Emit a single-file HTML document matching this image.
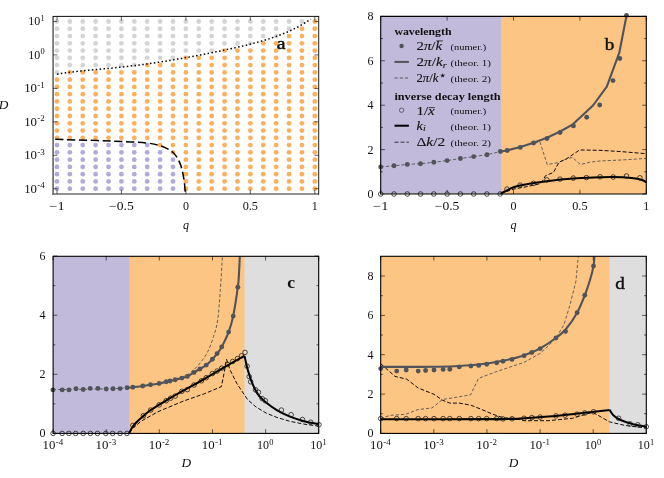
<!DOCTYPE html>
<html><head><meta charset="utf-8"><title>figure</title>
<style>html,body{margin:0;padding:0;background:#fff}svg{display:block;will-change:transform}</style>
</head><body>
<svg width="664" height="478" viewBox="0 0 664 478" font-family="'Liberation Serif', serif" fill="#111">
<rect width="664" height="478" fill="#fff"/>
<circle cx="56.95" cy="21.50" r="2.4" fill="#d4d4d4"/>
<circle cx="56.95" cy="28.77" r="2.4" fill="#d4d4d4"/>
<circle cx="56.95" cy="36.04" r="2.4" fill="#d4d4d4"/>
<circle cx="56.95" cy="43.31" r="2.4" fill="#d4d4d4"/>
<circle cx="56.95" cy="50.58" r="2.4" fill="#d4d4d4"/>
<circle cx="56.95" cy="57.85" r="2.4" fill="#d4d4d4"/>
<circle cx="56.95" cy="65.12" r="2.4" fill="#d4d4d4"/>
<circle cx="56.95" cy="72.39" r="2.4" fill="#d4d4d4"/>
<circle cx="56.95" cy="79.66" r="2.4" fill="#fdb05c"/>
<circle cx="56.95" cy="86.93" r="2.4" fill="#fdb05c"/>
<circle cx="56.95" cy="94.20" r="2.4" fill="#fdb05c"/>
<circle cx="56.95" cy="101.47" r="2.4" fill="#fdb05c"/>
<circle cx="56.95" cy="108.74" r="2.4" fill="#fdb05c"/>
<circle cx="56.95" cy="116.01" r="2.4" fill="#fdb05c"/>
<circle cx="56.95" cy="123.28" r="2.4" fill="#fdb05c"/>
<circle cx="56.95" cy="130.55" r="2.4" fill="#fdb05c"/>
<circle cx="56.95" cy="137.82" r="2.4" fill="#fdb05c"/>
<circle cx="56.95" cy="145.09" r="2.4" fill="#b2aad8"/>
<circle cx="56.95" cy="152.36" r="2.4" fill="#b2aad8"/>
<circle cx="56.95" cy="159.63" r="2.4" fill="#b2aad8"/>
<circle cx="56.95" cy="166.90" r="2.4" fill="#b2aad8"/>
<circle cx="56.95" cy="174.17" r="2.4" fill="#b2aad8"/>
<circle cx="56.95" cy="181.44" r="2.4" fill="#b2aad8"/>
<circle cx="56.95" cy="188.71" r="2.4" fill="#b2aad8"/>
<circle cx="69.84" cy="21.50" r="2.4" fill="#d4d4d4"/>
<circle cx="69.84" cy="28.77" r="2.4" fill="#d4d4d4"/>
<circle cx="69.84" cy="36.04" r="2.4" fill="#d4d4d4"/>
<circle cx="69.84" cy="43.31" r="2.4" fill="#d4d4d4"/>
<circle cx="69.84" cy="50.58" r="2.4" fill="#d4d4d4"/>
<circle cx="69.84" cy="57.85" r="2.4" fill="#d4d4d4"/>
<circle cx="69.84" cy="65.12" r="2.4" fill="#d4d4d4"/>
<circle cx="69.84" cy="72.39" r="2.4" fill="#fdb05c"/>
<circle cx="69.84" cy="79.66" r="2.4" fill="#fdb05c"/>
<circle cx="69.84" cy="86.93" r="2.4" fill="#fdb05c"/>
<circle cx="69.84" cy="94.20" r="2.4" fill="#fdb05c"/>
<circle cx="69.84" cy="101.47" r="2.4" fill="#fdb05c"/>
<circle cx="69.84" cy="108.74" r="2.4" fill="#fdb05c"/>
<circle cx="69.84" cy="116.01" r="2.4" fill="#fdb05c"/>
<circle cx="69.84" cy="123.28" r="2.4" fill="#fdb05c"/>
<circle cx="69.84" cy="130.55" r="2.4" fill="#fdb05c"/>
<circle cx="69.84" cy="137.82" r="2.4" fill="#fdb05c"/>
<circle cx="69.84" cy="145.09" r="2.4" fill="#b2aad8"/>
<circle cx="69.84" cy="152.36" r="2.4" fill="#b2aad8"/>
<circle cx="69.84" cy="159.63" r="2.4" fill="#b2aad8"/>
<circle cx="69.84" cy="166.90" r="2.4" fill="#b2aad8"/>
<circle cx="69.84" cy="174.17" r="2.4" fill="#b2aad8"/>
<circle cx="69.84" cy="181.44" r="2.4" fill="#b2aad8"/>
<circle cx="69.84" cy="188.71" r="2.4" fill="#b2aad8"/>
<circle cx="82.74" cy="21.50" r="2.4" fill="#d4d4d4"/>
<circle cx="82.74" cy="28.77" r="2.4" fill="#d4d4d4"/>
<circle cx="82.74" cy="36.04" r="2.4" fill="#d4d4d4"/>
<circle cx="82.74" cy="43.31" r="2.4" fill="#d4d4d4"/>
<circle cx="82.74" cy="50.58" r="2.4" fill="#d4d4d4"/>
<circle cx="82.74" cy="57.85" r="2.4" fill="#d4d4d4"/>
<circle cx="82.74" cy="65.12" r="2.4" fill="#d4d4d4"/>
<circle cx="82.74" cy="72.39" r="2.4" fill="#fdb05c"/>
<circle cx="82.74" cy="79.66" r="2.4" fill="#fdb05c"/>
<circle cx="82.74" cy="86.93" r="2.4" fill="#fdb05c"/>
<circle cx="82.74" cy="94.20" r="2.4" fill="#fdb05c"/>
<circle cx="82.74" cy="101.47" r="2.4" fill="#fdb05c"/>
<circle cx="82.74" cy="108.74" r="2.4" fill="#fdb05c"/>
<circle cx="82.74" cy="116.01" r="2.4" fill="#fdb05c"/>
<circle cx="82.74" cy="123.28" r="2.4" fill="#fdb05c"/>
<circle cx="82.74" cy="130.55" r="2.4" fill="#fdb05c"/>
<circle cx="82.74" cy="137.82" r="2.4" fill="#fdb05c"/>
<circle cx="82.74" cy="145.09" r="2.4" fill="#b2aad8"/>
<circle cx="82.74" cy="152.36" r="2.4" fill="#b2aad8"/>
<circle cx="82.74" cy="159.63" r="2.4" fill="#b2aad8"/>
<circle cx="82.74" cy="166.90" r="2.4" fill="#b2aad8"/>
<circle cx="82.74" cy="174.17" r="2.4" fill="#b2aad8"/>
<circle cx="82.74" cy="181.44" r="2.4" fill="#b2aad8"/>
<circle cx="82.74" cy="188.71" r="2.4" fill="#b2aad8"/>
<circle cx="95.63" cy="21.50" r="2.4" fill="#d4d4d4"/>
<circle cx="95.63" cy="28.77" r="2.4" fill="#d4d4d4"/>
<circle cx="95.63" cy="36.04" r="2.4" fill="#d4d4d4"/>
<circle cx="95.63" cy="43.31" r="2.4" fill="#d4d4d4"/>
<circle cx="95.63" cy="50.58" r="2.4" fill="#d4d4d4"/>
<circle cx="95.63" cy="57.85" r="2.4" fill="#d4d4d4"/>
<circle cx="95.63" cy="65.12" r="2.4" fill="#d4d4d4"/>
<circle cx="95.63" cy="72.39" r="2.4" fill="#fdb05c"/>
<circle cx="95.63" cy="79.66" r="2.4" fill="#fdb05c"/>
<circle cx="95.63" cy="86.93" r="2.4" fill="#fdb05c"/>
<circle cx="95.63" cy="94.20" r="2.4" fill="#fdb05c"/>
<circle cx="95.63" cy="101.47" r="2.4" fill="#fdb05c"/>
<circle cx="95.63" cy="108.74" r="2.4" fill="#fdb05c"/>
<circle cx="95.63" cy="116.01" r="2.4" fill="#fdb05c"/>
<circle cx="95.63" cy="123.28" r="2.4" fill="#fdb05c"/>
<circle cx="95.63" cy="130.55" r="2.4" fill="#fdb05c"/>
<circle cx="95.63" cy="137.82" r="2.4" fill="#fdb05c"/>
<circle cx="95.63" cy="145.09" r="2.4" fill="#b2aad8"/>
<circle cx="95.63" cy="152.36" r="2.4" fill="#b2aad8"/>
<circle cx="95.63" cy="159.63" r="2.4" fill="#b2aad8"/>
<circle cx="95.63" cy="166.90" r="2.4" fill="#b2aad8"/>
<circle cx="95.63" cy="174.17" r="2.4" fill="#b2aad8"/>
<circle cx="95.63" cy="181.44" r="2.4" fill="#b2aad8"/>
<circle cx="95.63" cy="188.71" r="2.4" fill="#b2aad8"/>
<circle cx="108.52" cy="21.50" r="2.4" fill="#d4d4d4"/>
<circle cx="108.52" cy="28.77" r="2.4" fill="#d4d4d4"/>
<circle cx="108.52" cy="36.04" r="2.4" fill="#d4d4d4"/>
<circle cx="108.52" cy="43.31" r="2.4" fill="#d4d4d4"/>
<circle cx="108.52" cy="50.58" r="2.4" fill="#d4d4d4"/>
<circle cx="108.52" cy="57.85" r="2.4" fill="#d4d4d4"/>
<circle cx="108.52" cy="65.12" r="2.4" fill="#d4d4d4"/>
<circle cx="108.52" cy="72.39" r="2.4" fill="#fdb05c"/>
<circle cx="108.52" cy="79.66" r="2.4" fill="#fdb05c"/>
<circle cx="108.52" cy="86.93" r="2.4" fill="#fdb05c"/>
<circle cx="108.52" cy="94.20" r="2.4" fill="#fdb05c"/>
<circle cx="108.52" cy="101.47" r="2.4" fill="#fdb05c"/>
<circle cx="108.52" cy="108.74" r="2.4" fill="#fdb05c"/>
<circle cx="108.52" cy="116.01" r="2.4" fill="#fdb05c"/>
<circle cx="108.52" cy="123.28" r="2.4" fill="#fdb05c"/>
<circle cx="108.52" cy="130.55" r="2.4" fill="#fdb05c"/>
<circle cx="108.52" cy="137.82" r="2.4" fill="#fdb05c"/>
<circle cx="108.52" cy="145.09" r="2.4" fill="#b2aad8"/>
<circle cx="108.52" cy="152.36" r="2.4" fill="#b2aad8"/>
<circle cx="108.52" cy="159.63" r="2.4" fill="#b2aad8"/>
<circle cx="108.52" cy="166.90" r="2.4" fill="#b2aad8"/>
<circle cx="108.52" cy="174.17" r="2.4" fill="#b2aad8"/>
<circle cx="108.52" cy="181.44" r="2.4" fill="#b2aad8"/>
<circle cx="108.52" cy="188.71" r="2.4" fill="#b2aad8"/>
<circle cx="121.42" cy="21.50" r="2.4" fill="#d4d4d4"/>
<circle cx="121.42" cy="28.77" r="2.4" fill="#d4d4d4"/>
<circle cx="121.42" cy="36.04" r="2.4" fill="#d4d4d4"/>
<circle cx="121.42" cy="43.31" r="2.4" fill="#d4d4d4"/>
<circle cx="121.42" cy="50.58" r="2.4" fill="#d4d4d4"/>
<circle cx="121.42" cy="57.85" r="2.4" fill="#d4d4d4"/>
<circle cx="121.42" cy="65.12" r="2.4" fill="#d4d4d4"/>
<circle cx="121.42" cy="72.39" r="2.4" fill="#fdb05c"/>
<circle cx="121.42" cy="79.66" r="2.4" fill="#fdb05c"/>
<circle cx="121.42" cy="86.93" r="2.4" fill="#fdb05c"/>
<circle cx="121.42" cy="94.20" r="2.4" fill="#fdb05c"/>
<circle cx="121.42" cy="101.47" r="2.4" fill="#fdb05c"/>
<circle cx="121.42" cy="108.74" r="2.4" fill="#fdb05c"/>
<circle cx="121.42" cy="116.01" r="2.4" fill="#fdb05c"/>
<circle cx="121.42" cy="123.28" r="2.4" fill="#fdb05c"/>
<circle cx="121.42" cy="130.55" r="2.4" fill="#fdb05c"/>
<circle cx="121.42" cy="137.82" r="2.4" fill="#fdb05c"/>
<circle cx="121.42" cy="145.09" r="2.4" fill="#b2aad8"/>
<circle cx="121.42" cy="152.36" r="2.4" fill="#b2aad8"/>
<circle cx="121.42" cy="159.63" r="2.4" fill="#b2aad8"/>
<circle cx="121.42" cy="166.90" r="2.4" fill="#b2aad8"/>
<circle cx="121.42" cy="174.17" r="2.4" fill="#b2aad8"/>
<circle cx="121.42" cy="181.44" r="2.4" fill="#b2aad8"/>
<circle cx="121.42" cy="188.71" r="2.4" fill="#b2aad8"/>
<circle cx="134.31" cy="21.50" r="2.4" fill="#d4d4d4"/>
<circle cx="134.31" cy="28.77" r="2.4" fill="#d4d4d4"/>
<circle cx="134.31" cy="36.04" r="2.4" fill="#d4d4d4"/>
<circle cx="134.31" cy="43.31" r="2.4" fill="#d4d4d4"/>
<circle cx="134.31" cy="50.58" r="2.4" fill="#d4d4d4"/>
<circle cx="134.31" cy="57.85" r="2.4" fill="#d4d4d4"/>
<circle cx="134.31" cy="65.12" r="2.4" fill="#d4d4d4"/>
<circle cx="134.31" cy="72.39" r="2.4" fill="#fdb05c"/>
<circle cx="134.31" cy="79.66" r="2.4" fill="#fdb05c"/>
<circle cx="134.31" cy="86.93" r="2.4" fill="#fdb05c"/>
<circle cx="134.31" cy="94.20" r="2.4" fill="#fdb05c"/>
<circle cx="134.31" cy="101.47" r="2.4" fill="#fdb05c"/>
<circle cx="134.31" cy="108.74" r="2.4" fill="#fdb05c"/>
<circle cx="134.31" cy="116.01" r="2.4" fill="#fdb05c"/>
<circle cx="134.31" cy="123.28" r="2.4" fill="#fdb05c"/>
<circle cx="134.31" cy="130.55" r="2.4" fill="#fdb05c"/>
<circle cx="134.31" cy="137.82" r="2.4" fill="#fdb05c"/>
<circle cx="134.31" cy="145.09" r="2.4" fill="#b2aad8"/>
<circle cx="134.31" cy="152.36" r="2.4" fill="#b2aad8"/>
<circle cx="134.31" cy="159.63" r="2.4" fill="#b2aad8"/>
<circle cx="134.31" cy="166.90" r="2.4" fill="#b2aad8"/>
<circle cx="134.31" cy="174.17" r="2.4" fill="#b2aad8"/>
<circle cx="134.31" cy="181.44" r="2.4" fill="#b2aad8"/>
<circle cx="134.31" cy="188.71" r="2.4" fill="#b2aad8"/>
<circle cx="147.20" cy="21.50" r="2.4" fill="#d4d4d4"/>
<circle cx="147.20" cy="28.77" r="2.4" fill="#d4d4d4"/>
<circle cx="147.20" cy="36.04" r="2.4" fill="#d4d4d4"/>
<circle cx="147.20" cy="43.31" r="2.4" fill="#d4d4d4"/>
<circle cx="147.20" cy="50.58" r="2.4" fill="#d4d4d4"/>
<circle cx="147.20" cy="57.85" r="2.4" fill="#d4d4d4"/>
<circle cx="147.20" cy="65.12" r="2.4" fill="#fdb05c"/>
<circle cx="147.20" cy="72.39" r="2.4" fill="#fdb05c"/>
<circle cx="147.20" cy="79.66" r="2.4" fill="#fdb05c"/>
<circle cx="147.20" cy="86.93" r="2.4" fill="#fdb05c"/>
<circle cx="147.20" cy="94.20" r="2.4" fill="#fdb05c"/>
<circle cx="147.20" cy="101.47" r="2.4" fill="#fdb05c"/>
<circle cx="147.20" cy="108.74" r="2.4" fill="#fdb05c"/>
<circle cx="147.20" cy="116.01" r="2.4" fill="#fdb05c"/>
<circle cx="147.20" cy="123.28" r="2.4" fill="#fdb05c"/>
<circle cx="147.20" cy="130.55" r="2.4" fill="#fdb05c"/>
<circle cx="147.20" cy="137.82" r="2.4" fill="#fdb05c"/>
<circle cx="147.20" cy="145.09" r="2.4" fill="#b2aad8"/>
<circle cx="147.20" cy="152.36" r="2.4" fill="#b2aad8"/>
<circle cx="147.20" cy="159.63" r="2.4" fill="#b2aad8"/>
<circle cx="147.20" cy="166.90" r="2.4" fill="#b2aad8"/>
<circle cx="147.20" cy="174.17" r="2.4" fill="#b2aad8"/>
<circle cx="147.20" cy="181.44" r="2.4" fill="#b2aad8"/>
<circle cx="147.20" cy="188.71" r="2.4" fill="#b2aad8"/>
<circle cx="160.09" cy="21.50" r="2.4" fill="#d4d4d4"/>
<circle cx="160.09" cy="28.77" r="2.4" fill="#d4d4d4"/>
<circle cx="160.09" cy="36.04" r="2.4" fill="#d4d4d4"/>
<circle cx="160.09" cy="43.31" r="2.4" fill="#d4d4d4"/>
<circle cx="160.09" cy="50.58" r="2.4" fill="#d4d4d4"/>
<circle cx="160.09" cy="57.85" r="2.4" fill="#d4d4d4"/>
<circle cx="160.09" cy="65.12" r="2.4" fill="#fdb05c"/>
<circle cx="160.09" cy="72.39" r="2.4" fill="#fdb05c"/>
<circle cx="160.09" cy="79.66" r="2.4" fill="#fdb05c"/>
<circle cx="160.09" cy="86.93" r="2.4" fill="#fdb05c"/>
<circle cx="160.09" cy="94.20" r="2.4" fill="#fdb05c"/>
<circle cx="160.09" cy="101.47" r="2.4" fill="#fdb05c"/>
<circle cx="160.09" cy="108.74" r="2.4" fill="#fdb05c"/>
<circle cx="160.09" cy="116.01" r="2.4" fill="#fdb05c"/>
<circle cx="160.09" cy="123.28" r="2.4" fill="#fdb05c"/>
<circle cx="160.09" cy="130.55" r="2.4" fill="#fdb05c"/>
<circle cx="160.09" cy="137.82" r="2.4" fill="#fdb05c"/>
<circle cx="160.09" cy="145.09" r="2.4" fill="#fdb05c"/>
<circle cx="160.09" cy="152.36" r="2.4" fill="#b2aad8"/>
<circle cx="160.09" cy="159.63" r="2.4" fill="#b2aad8"/>
<circle cx="160.09" cy="166.90" r="2.4" fill="#b2aad8"/>
<circle cx="160.09" cy="174.17" r="2.4" fill="#b2aad8"/>
<circle cx="160.09" cy="181.44" r="2.4" fill="#b2aad8"/>
<circle cx="160.09" cy="188.71" r="2.4" fill="#b2aad8"/>
<circle cx="172.99" cy="21.50" r="2.4" fill="#d4d4d4"/>
<circle cx="172.99" cy="28.77" r="2.4" fill="#d4d4d4"/>
<circle cx="172.99" cy="36.04" r="2.4" fill="#d4d4d4"/>
<circle cx="172.99" cy="43.31" r="2.4" fill="#d4d4d4"/>
<circle cx="172.99" cy="50.58" r="2.4" fill="#d4d4d4"/>
<circle cx="172.99" cy="57.85" r="2.4" fill="#d4d4d4"/>
<circle cx="172.99" cy="65.12" r="2.4" fill="#fdb05c"/>
<circle cx="172.99" cy="72.39" r="2.4" fill="#fdb05c"/>
<circle cx="172.99" cy="79.66" r="2.4" fill="#fdb05c"/>
<circle cx="172.99" cy="86.93" r="2.4" fill="#fdb05c"/>
<circle cx="172.99" cy="94.20" r="2.4" fill="#fdb05c"/>
<circle cx="172.99" cy="101.47" r="2.4" fill="#fdb05c"/>
<circle cx="172.99" cy="108.74" r="2.4" fill="#fdb05c"/>
<circle cx="172.99" cy="116.01" r="2.4" fill="#fdb05c"/>
<circle cx="172.99" cy="123.28" r="2.4" fill="#fdb05c"/>
<circle cx="172.99" cy="130.55" r="2.4" fill="#fdb05c"/>
<circle cx="172.99" cy="137.82" r="2.4" fill="#fdb05c"/>
<circle cx="172.99" cy="145.09" r="2.4" fill="#fdb05c"/>
<circle cx="172.99" cy="152.36" r="2.4" fill="#fdb05c"/>
<circle cx="172.99" cy="159.63" r="2.4" fill="#b2aad8"/>
<circle cx="172.99" cy="166.90" r="2.4" fill="#b2aad8"/>
<circle cx="172.99" cy="174.17" r="2.4" fill="#b2aad8"/>
<circle cx="172.99" cy="181.44" r="2.4" fill="#b2aad8"/>
<circle cx="172.99" cy="188.71" r="2.4" fill="#b2aad8"/>
<circle cx="185.88" cy="21.50" r="2.4" fill="#d4d4d4"/>
<circle cx="185.88" cy="28.77" r="2.4" fill="#d4d4d4"/>
<circle cx="185.88" cy="36.04" r="2.4" fill="#d4d4d4"/>
<circle cx="185.88" cy="43.31" r="2.4" fill="#d4d4d4"/>
<circle cx="185.88" cy="50.58" r="2.4" fill="#d4d4d4"/>
<circle cx="185.88" cy="57.85" r="2.4" fill="#fdb05c"/>
<circle cx="185.88" cy="65.12" r="2.4" fill="#fdb05c"/>
<circle cx="185.88" cy="72.39" r="2.4" fill="#fdb05c"/>
<circle cx="185.88" cy="79.66" r="2.4" fill="#fdb05c"/>
<circle cx="185.88" cy="86.93" r="2.4" fill="#fdb05c"/>
<circle cx="185.88" cy="94.20" r="2.4" fill="#fdb05c"/>
<circle cx="185.88" cy="101.47" r="2.4" fill="#fdb05c"/>
<circle cx="185.88" cy="108.74" r="2.4" fill="#fdb05c"/>
<circle cx="185.88" cy="116.01" r="2.4" fill="#fdb05c"/>
<circle cx="185.88" cy="123.28" r="2.4" fill="#fdb05c"/>
<circle cx="185.88" cy="130.55" r="2.4" fill="#fdb05c"/>
<circle cx="185.88" cy="137.82" r="2.4" fill="#fdb05c"/>
<circle cx="185.88" cy="145.09" r="2.4" fill="#fdb05c"/>
<circle cx="185.88" cy="152.36" r="2.4" fill="#fdb05c"/>
<circle cx="185.88" cy="159.63" r="2.4" fill="#fdb05c"/>
<circle cx="185.88" cy="166.90" r="2.4" fill="#fdb05c"/>
<circle cx="185.88" cy="174.17" r="2.4" fill="#fdb05c"/>
<circle cx="185.88" cy="181.44" r="2.4" fill="#fdb05c"/>
<circle cx="185.88" cy="188.71" r="2.4" fill="#fdb05c"/>
<circle cx="198.77" cy="21.50" r="2.4" fill="#d4d4d4"/>
<circle cx="198.77" cy="28.77" r="2.4" fill="#d4d4d4"/>
<circle cx="198.77" cy="36.04" r="2.4" fill="#d4d4d4"/>
<circle cx="198.77" cy="43.31" r="2.4" fill="#d4d4d4"/>
<circle cx="198.77" cy="50.58" r="2.4" fill="#d4d4d4"/>
<circle cx="198.77" cy="57.85" r="2.4" fill="#fdb05c"/>
<circle cx="198.77" cy="65.12" r="2.4" fill="#fdb05c"/>
<circle cx="198.77" cy="72.39" r="2.4" fill="#fdb05c"/>
<circle cx="198.77" cy="79.66" r="2.4" fill="#fdb05c"/>
<circle cx="198.77" cy="86.93" r="2.4" fill="#fdb05c"/>
<circle cx="198.77" cy="94.20" r="2.4" fill="#fdb05c"/>
<circle cx="198.77" cy="101.47" r="2.4" fill="#fdb05c"/>
<circle cx="198.77" cy="108.74" r="2.4" fill="#fdb05c"/>
<circle cx="198.77" cy="116.01" r="2.4" fill="#fdb05c"/>
<circle cx="198.77" cy="123.28" r="2.4" fill="#fdb05c"/>
<circle cx="198.77" cy="130.55" r="2.4" fill="#fdb05c"/>
<circle cx="198.77" cy="137.82" r="2.4" fill="#fdb05c"/>
<circle cx="198.77" cy="145.09" r="2.4" fill="#fdb05c"/>
<circle cx="198.77" cy="152.36" r="2.4" fill="#fdb05c"/>
<circle cx="198.77" cy="159.63" r="2.4" fill="#fdb05c"/>
<circle cx="198.77" cy="166.90" r="2.4" fill="#fdb05c"/>
<circle cx="198.77" cy="174.17" r="2.4" fill="#fdb05c"/>
<circle cx="198.77" cy="181.44" r="2.4" fill="#fdb05c"/>
<circle cx="198.77" cy="188.71" r="2.4" fill="#fdb05c"/>
<circle cx="211.67" cy="21.50" r="2.4" fill="#d4d4d4"/>
<circle cx="211.67" cy="28.77" r="2.4" fill="#d4d4d4"/>
<circle cx="211.67" cy="36.04" r="2.4" fill="#d4d4d4"/>
<circle cx="211.67" cy="43.31" r="2.4" fill="#d4d4d4"/>
<circle cx="211.67" cy="50.58" r="2.4" fill="#d4d4d4"/>
<circle cx="211.67" cy="57.85" r="2.4" fill="#fdb05c"/>
<circle cx="211.67" cy="65.12" r="2.4" fill="#fdb05c"/>
<circle cx="211.67" cy="72.39" r="2.4" fill="#fdb05c"/>
<circle cx="211.67" cy="79.66" r="2.4" fill="#fdb05c"/>
<circle cx="211.67" cy="86.93" r="2.4" fill="#fdb05c"/>
<circle cx="211.67" cy="94.20" r="2.4" fill="#fdb05c"/>
<circle cx="211.67" cy="101.47" r="2.4" fill="#fdb05c"/>
<circle cx="211.67" cy="108.74" r="2.4" fill="#fdb05c"/>
<circle cx="211.67" cy="116.01" r="2.4" fill="#fdb05c"/>
<circle cx="211.67" cy="123.28" r="2.4" fill="#fdb05c"/>
<circle cx="211.67" cy="130.55" r="2.4" fill="#fdb05c"/>
<circle cx="211.67" cy="137.82" r="2.4" fill="#fdb05c"/>
<circle cx="211.67" cy="145.09" r="2.4" fill="#fdb05c"/>
<circle cx="211.67" cy="152.36" r="2.4" fill="#fdb05c"/>
<circle cx="211.67" cy="159.63" r="2.4" fill="#fdb05c"/>
<circle cx="211.67" cy="166.90" r="2.4" fill="#fdb05c"/>
<circle cx="211.67" cy="174.17" r="2.4" fill="#fdb05c"/>
<circle cx="211.67" cy="181.44" r="2.4" fill="#fdb05c"/>
<circle cx="211.67" cy="188.71" r="2.4" fill="#fdb05c"/>
<circle cx="224.56" cy="21.50" r="2.4" fill="#d4d4d4"/>
<circle cx="224.56" cy="28.77" r="2.4" fill="#d4d4d4"/>
<circle cx="224.56" cy="36.04" r="2.4" fill="#d4d4d4"/>
<circle cx="224.56" cy="43.31" r="2.4" fill="#d4d4d4"/>
<circle cx="224.56" cy="50.58" r="2.4" fill="#fdb05c"/>
<circle cx="224.56" cy="57.85" r="2.4" fill="#fdb05c"/>
<circle cx="224.56" cy="65.12" r="2.4" fill="#fdb05c"/>
<circle cx="224.56" cy="72.39" r="2.4" fill="#fdb05c"/>
<circle cx="224.56" cy="79.66" r="2.4" fill="#fdb05c"/>
<circle cx="224.56" cy="86.93" r="2.4" fill="#fdb05c"/>
<circle cx="224.56" cy="94.20" r="2.4" fill="#fdb05c"/>
<circle cx="224.56" cy="101.47" r="2.4" fill="#fdb05c"/>
<circle cx="224.56" cy="108.74" r="2.4" fill="#fdb05c"/>
<circle cx="224.56" cy="116.01" r="2.4" fill="#fdb05c"/>
<circle cx="224.56" cy="123.28" r="2.4" fill="#fdb05c"/>
<circle cx="224.56" cy="130.55" r="2.4" fill="#fdb05c"/>
<circle cx="224.56" cy="137.82" r="2.4" fill="#fdb05c"/>
<circle cx="224.56" cy="145.09" r="2.4" fill="#fdb05c"/>
<circle cx="224.56" cy="152.36" r="2.4" fill="#fdb05c"/>
<circle cx="224.56" cy="159.63" r="2.4" fill="#fdb05c"/>
<circle cx="224.56" cy="166.90" r="2.4" fill="#fdb05c"/>
<circle cx="224.56" cy="174.17" r="2.4" fill="#fdb05c"/>
<circle cx="224.56" cy="181.44" r="2.4" fill="#fdb05c"/>
<circle cx="224.56" cy="188.71" r="2.4" fill="#fdb05c"/>
<circle cx="237.45" cy="21.50" r="2.4" fill="#d4d4d4"/>
<circle cx="237.45" cy="28.77" r="2.4" fill="#d4d4d4"/>
<circle cx="237.45" cy="36.04" r="2.4" fill="#d4d4d4"/>
<circle cx="237.45" cy="43.31" r="2.4" fill="#d4d4d4"/>
<circle cx="237.45" cy="50.58" r="2.4" fill="#fdb05c"/>
<circle cx="237.45" cy="57.85" r="2.4" fill="#fdb05c"/>
<circle cx="237.45" cy="65.12" r="2.4" fill="#fdb05c"/>
<circle cx="237.45" cy="72.39" r="2.4" fill="#fdb05c"/>
<circle cx="237.45" cy="79.66" r="2.4" fill="#fdb05c"/>
<circle cx="237.45" cy="86.93" r="2.4" fill="#fdb05c"/>
<circle cx="237.45" cy="94.20" r="2.4" fill="#fdb05c"/>
<circle cx="237.45" cy="101.47" r="2.4" fill="#fdb05c"/>
<circle cx="237.45" cy="108.74" r="2.4" fill="#fdb05c"/>
<circle cx="237.45" cy="116.01" r="2.4" fill="#fdb05c"/>
<circle cx="237.45" cy="123.28" r="2.4" fill="#fdb05c"/>
<circle cx="237.45" cy="130.55" r="2.4" fill="#fdb05c"/>
<circle cx="237.45" cy="137.82" r="2.4" fill="#fdb05c"/>
<circle cx="237.45" cy="145.09" r="2.4" fill="#fdb05c"/>
<circle cx="237.45" cy="152.36" r="2.4" fill="#fdb05c"/>
<circle cx="237.45" cy="159.63" r="2.4" fill="#fdb05c"/>
<circle cx="237.45" cy="166.90" r="2.4" fill="#fdb05c"/>
<circle cx="237.45" cy="174.17" r="2.4" fill="#fdb05c"/>
<circle cx="237.45" cy="181.44" r="2.4" fill="#fdb05c"/>
<circle cx="237.45" cy="188.71" r="2.4" fill="#fdb05c"/>
<circle cx="250.35" cy="21.50" r="2.4" fill="#d4d4d4"/>
<circle cx="250.35" cy="28.77" r="2.4" fill="#d4d4d4"/>
<circle cx="250.35" cy="36.04" r="2.4" fill="#d4d4d4"/>
<circle cx="250.35" cy="43.31" r="2.4" fill="#d4d4d4"/>
<circle cx="250.35" cy="50.58" r="2.4" fill="#fdb05c"/>
<circle cx="250.35" cy="57.85" r="2.4" fill="#fdb05c"/>
<circle cx="250.35" cy="65.12" r="2.4" fill="#fdb05c"/>
<circle cx="250.35" cy="72.39" r="2.4" fill="#fdb05c"/>
<circle cx="250.35" cy="79.66" r="2.4" fill="#fdb05c"/>
<circle cx="250.35" cy="86.93" r="2.4" fill="#fdb05c"/>
<circle cx="250.35" cy="94.20" r="2.4" fill="#fdb05c"/>
<circle cx="250.35" cy="101.47" r="2.4" fill="#fdb05c"/>
<circle cx="250.35" cy="108.74" r="2.4" fill="#fdb05c"/>
<circle cx="250.35" cy="116.01" r="2.4" fill="#fdb05c"/>
<circle cx="250.35" cy="123.28" r="2.4" fill="#fdb05c"/>
<circle cx="250.35" cy="130.55" r="2.4" fill="#fdb05c"/>
<circle cx="250.35" cy="137.82" r="2.4" fill="#fdb05c"/>
<circle cx="250.35" cy="145.09" r="2.4" fill="#fdb05c"/>
<circle cx="250.35" cy="152.36" r="2.4" fill="#fdb05c"/>
<circle cx="250.35" cy="159.63" r="2.4" fill="#fdb05c"/>
<circle cx="250.35" cy="166.90" r="2.4" fill="#fdb05c"/>
<circle cx="250.35" cy="174.17" r="2.4" fill="#fdb05c"/>
<circle cx="250.35" cy="181.44" r="2.4" fill="#fdb05c"/>
<circle cx="250.35" cy="188.71" r="2.4" fill="#fdb05c"/>
<circle cx="263.24" cy="21.50" r="2.4" fill="#d4d4d4"/>
<circle cx="263.24" cy="28.77" r="2.4" fill="#d4d4d4"/>
<circle cx="263.24" cy="36.04" r="2.4" fill="#d4d4d4"/>
<circle cx="263.24" cy="43.31" r="2.4" fill="#fdb05c"/>
<circle cx="263.24" cy="50.58" r="2.4" fill="#fdb05c"/>
<circle cx="263.24" cy="57.85" r="2.4" fill="#fdb05c"/>
<circle cx="263.24" cy="65.12" r="2.4" fill="#fdb05c"/>
<circle cx="263.24" cy="72.39" r="2.4" fill="#fdb05c"/>
<circle cx="263.24" cy="79.66" r="2.4" fill="#fdb05c"/>
<circle cx="263.24" cy="86.93" r="2.4" fill="#fdb05c"/>
<circle cx="263.24" cy="94.20" r="2.4" fill="#fdb05c"/>
<circle cx="263.24" cy="101.47" r="2.4" fill="#fdb05c"/>
<circle cx="263.24" cy="108.74" r="2.4" fill="#fdb05c"/>
<circle cx="263.24" cy="116.01" r="2.4" fill="#fdb05c"/>
<circle cx="263.24" cy="123.28" r="2.4" fill="#fdb05c"/>
<circle cx="263.24" cy="130.55" r="2.4" fill="#fdb05c"/>
<circle cx="263.24" cy="137.82" r="2.4" fill="#fdb05c"/>
<circle cx="263.24" cy="145.09" r="2.4" fill="#fdb05c"/>
<circle cx="263.24" cy="152.36" r="2.4" fill="#fdb05c"/>
<circle cx="263.24" cy="159.63" r="2.4" fill="#fdb05c"/>
<circle cx="263.24" cy="166.90" r="2.4" fill="#fdb05c"/>
<circle cx="263.24" cy="174.17" r="2.4" fill="#fdb05c"/>
<circle cx="263.24" cy="181.44" r="2.4" fill="#fdb05c"/>
<circle cx="263.24" cy="188.71" r="2.4" fill="#fdb05c"/>
<circle cx="276.13" cy="21.50" r="2.4" fill="#d4d4d4"/>
<circle cx="276.13" cy="28.77" r="2.4" fill="#d4d4d4"/>
<circle cx="276.13" cy="36.04" r="2.4" fill="#d4d4d4"/>
<circle cx="276.13" cy="43.31" r="2.4" fill="#fdb05c"/>
<circle cx="276.13" cy="50.58" r="2.4" fill="#fdb05c"/>
<circle cx="276.13" cy="57.85" r="2.4" fill="#fdb05c"/>
<circle cx="276.13" cy="65.12" r="2.4" fill="#fdb05c"/>
<circle cx="276.13" cy="72.39" r="2.4" fill="#fdb05c"/>
<circle cx="276.13" cy="79.66" r="2.4" fill="#fdb05c"/>
<circle cx="276.13" cy="86.93" r="2.4" fill="#fdb05c"/>
<circle cx="276.13" cy="94.20" r="2.4" fill="#fdb05c"/>
<circle cx="276.13" cy="101.47" r="2.4" fill="#fdb05c"/>
<circle cx="276.13" cy="108.74" r="2.4" fill="#fdb05c"/>
<circle cx="276.13" cy="116.01" r="2.4" fill="#fdb05c"/>
<circle cx="276.13" cy="123.28" r="2.4" fill="#fdb05c"/>
<circle cx="276.13" cy="130.55" r="2.4" fill="#fdb05c"/>
<circle cx="276.13" cy="137.82" r="2.4" fill="#fdb05c"/>
<circle cx="276.13" cy="145.09" r="2.4" fill="#fdb05c"/>
<circle cx="276.13" cy="152.36" r="2.4" fill="#fdb05c"/>
<circle cx="276.13" cy="159.63" r="2.4" fill="#fdb05c"/>
<circle cx="276.13" cy="166.90" r="2.4" fill="#fdb05c"/>
<circle cx="276.13" cy="174.17" r="2.4" fill="#fdb05c"/>
<circle cx="276.13" cy="181.44" r="2.4" fill="#fdb05c"/>
<circle cx="276.13" cy="188.71" r="2.4" fill="#fdb05c"/>
<circle cx="289.02" cy="21.50" r="2.4" fill="#d4d4d4"/>
<circle cx="289.02" cy="28.77" r="2.4" fill="#d4d4d4"/>
<circle cx="289.02" cy="36.04" r="2.4" fill="#fdb05c"/>
<circle cx="289.02" cy="43.31" r="2.4" fill="#fdb05c"/>
<circle cx="289.02" cy="50.58" r="2.4" fill="#fdb05c"/>
<circle cx="289.02" cy="57.85" r="2.4" fill="#fdb05c"/>
<circle cx="289.02" cy="65.12" r="2.4" fill="#fdb05c"/>
<circle cx="289.02" cy="72.39" r="2.4" fill="#fdb05c"/>
<circle cx="289.02" cy="79.66" r="2.4" fill="#fdb05c"/>
<circle cx="289.02" cy="86.93" r="2.4" fill="#fdb05c"/>
<circle cx="289.02" cy="94.20" r="2.4" fill="#fdb05c"/>
<circle cx="289.02" cy="101.47" r="2.4" fill="#fdb05c"/>
<circle cx="289.02" cy="108.74" r="2.4" fill="#fdb05c"/>
<circle cx="289.02" cy="116.01" r="2.4" fill="#fdb05c"/>
<circle cx="289.02" cy="123.28" r="2.4" fill="#fdb05c"/>
<circle cx="289.02" cy="130.55" r="2.4" fill="#fdb05c"/>
<circle cx="289.02" cy="137.82" r="2.4" fill="#fdb05c"/>
<circle cx="289.02" cy="145.09" r="2.4" fill="#fdb05c"/>
<circle cx="289.02" cy="152.36" r="2.4" fill="#fdb05c"/>
<circle cx="289.02" cy="159.63" r="2.4" fill="#fdb05c"/>
<circle cx="289.02" cy="166.90" r="2.4" fill="#fdb05c"/>
<circle cx="289.02" cy="174.17" r="2.4" fill="#fdb05c"/>
<circle cx="289.02" cy="181.44" r="2.4" fill="#fdb05c"/>
<circle cx="289.02" cy="188.71" r="2.4" fill="#fdb05c"/>
<circle cx="301.92" cy="21.50" r="2.4" fill="#d4d4d4"/>
<circle cx="301.92" cy="28.77" r="2.4" fill="#fdb05c"/>
<circle cx="301.92" cy="36.04" r="2.4" fill="#fdb05c"/>
<circle cx="301.92" cy="43.31" r="2.4" fill="#fdb05c"/>
<circle cx="301.92" cy="50.58" r="2.4" fill="#fdb05c"/>
<circle cx="301.92" cy="57.85" r="2.4" fill="#fdb05c"/>
<circle cx="301.92" cy="65.12" r="2.4" fill="#fdb05c"/>
<circle cx="301.92" cy="72.39" r="2.4" fill="#fdb05c"/>
<circle cx="301.92" cy="79.66" r="2.4" fill="#fdb05c"/>
<circle cx="301.92" cy="86.93" r="2.4" fill="#fdb05c"/>
<circle cx="301.92" cy="94.20" r="2.4" fill="#fdb05c"/>
<circle cx="301.92" cy="101.47" r="2.4" fill="#fdb05c"/>
<circle cx="301.92" cy="108.74" r="2.4" fill="#fdb05c"/>
<circle cx="301.92" cy="116.01" r="2.4" fill="#fdb05c"/>
<circle cx="301.92" cy="123.28" r="2.4" fill="#fdb05c"/>
<circle cx="301.92" cy="130.55" r="2.4" fill="#fdb05c"/>
<circle cx="301.92" cy="137.82" r="2.4" fill="#fdb05c"/>
<circle cx="301.92" cy="145.09" r="2.4" fill="#fdb05c"/>
<circle cx="301.92" cy="152.36" r="2.4" fill="#fdb05c"/>
<circle cx="301.92" cy="159.63" r="2.4" fill="#fdb05c"/>
<circle cx="301.92" cy="166.90" r="2.4" fill="#fdb05c"/>
<circle cx="301.92" cy="174.17" r="2.4" fill="#fdb05c"/>
<circle cx="301.92" cy="181.44" r="2.4" fill="#fdb05c"/>
<circle cx="301.92" cy="188.71" r="2.4" fill="#fdb05c"/>
<circle cx="314.81" cy="21.50" r="2.4" fill="#fdb05c"/>
<circle cx="314.81" cy="28.77" r="2.4" fill="#fdb05c"/>
<circle cx="314.81" cy="36.04" r="2.4" fill="#fdb05c"/>
<circle cx="314.81" cy="43.31" r="2.4" fill="#fdb05c"/>
<circle cx="314.81" cy="50.58" r="2.4" fill="#fdb05c"/>
<circle cx="314.81" cy="57.85" r="2.4" fill="#fdb05c"/>
<circle cx="314.81" cy="65.12" r="2.4" fill="#fdb05c"/>
<circle cx="314.81" cy="72.39" r="2.4" fill="#fdb05c"/>
<circle cx="314.81" cy="79.66" r="2.4" fill="#fdb05c"/>
<circle cx="314.81" cy="86.93" r="2.4" fill="#fdb05c"/>
<circle cx="314.81" cy="94.20" r="2.4" fill="#fdb05c"/>
<circle cx="314.81" cy="101.47" r="2.4" fill="#fdb05c"/>
<circle cx="314.81" cy="108.74" r="2.4" fill="#fdb05c"/>
<circle cx="314.81" cy="116.01" r="2.4" fill="#fdb05c"/>
<circle cx="314.81" cy="123.28" r="2.4" fill="#fdb05c"/>
<circle cx="314.81" cy="130.55" r="2.4" fill="#fdb05c"/>
<circle cx="314.81" cy="137.82" r="2.4" fill="#fdb05c"/>
<circle cx="314.81" cy="145.09" r="2.4" fill="#fdb05c"/>
<circle cx="314.81" cy="152.36" r="2.4" fill="#fdb05c"/>
<circle cx="314.81" cy="159.63" r="2.4" fill="#fdb05c"/>
<circle cx="314.81" cy="166.90" r="2.4" fill="#fdb05c"/>
<circle cx="314.81" cy="174.17" r="2.4" fill="#fdb05c"/>
<circle cx="314.81" cy="181.44" r="2.4" fill="#fdb05c"/>
<circle cx="314.81" cy="188.71" r="2.4" fill="#fdb05c"/>
<line x1="53.1" y1="16.4" x2="53.1" y2="194.8" stroke="#6e6e6e" stroke-width="1.7"/>
<line x1="52.3" y1="194.0" x2="318.7" y2="194.0" stroke="#6e6e6e" stroke-width="1.7"/>
<line x1="57.0" y1="194.0" x2="57.0" y2="189.8" stroke="#111" stroke-width="0.65"/>
<line x1="57.0" y1="16.4" x2="57.0" y2="20.6" stroke="#111" stroke-width="0.65"/>
<line x1="121.4" y1="194.0" x2="121.4" y2="189.8" stroke="#111" stroke-width="0.65"/>
<line x1="121.4" y1="16.4" x2="121.4" y2="20.6" stroke="#111" stroke-width="0.65"/>
<line x1="185.9" y1="194.0" x2="185.9" y2="189.8" stroke="#111" stroke-width="0.65"/>
<line x1="185.9" y1="16.4" x2="185.9" y2="20.6" stroke="#111" stroke-width="0.65"/>
<line x1="250.3" y1="194.0" x2="250.3" y2="189.8" stroke="#111" stroke-width="0.65"/>
<line x1="250.3" y1="16.4" x2="250.3" y2="20.6" stroke="#111" stroke-width="0.65"/>
<line x1="314.8" y1="194.0" x2="314.8" y2="189.8" stroke="#111" stroke-width="0.65"/>
<line x1="314.8" y1="16.4" x2="314.8" y2="20.6" stroke="#111" stroke-width="0.65"/>
<line x1="53.1" y1="21.5" x2="57.3" y2="21.5" stroke="#111" stroke-width="0.65"/>
<line x1="318.7" y1="21.5" x2="314.5" y2="21.5" stroke="#111" stroke-width="0.65"/>
<line x1="53.1" y1="54.9" x2="57.3" y2="54.9" stroke="#111" stroke-width="0.65"/>
<line x1="318.7" y1="54.9" x2="314.5" y2="54.9" stroke="#111" stroke-width="0.65"/>
<line x1="53.1" y1="88.4" x2="57.3" y2="88.4" stroke="#111" stroke-width="0.65"/>
<line x1="318.7" y1="88.4" x2="314.5" y2="88.4" stroke="#111" stroke-width="0.65"/>
<line x1="53.1" y1="121.8" x2="57.3" y2="121.8" stroke="#111" stroke-width="0.65"/>
<line x1="318.7" y1="121.8" x2="314.5" y2="121.8" stroke="#111" stroke-width="0.65"/>
<line x1="53.1" y1="155.3" x2="57.3" y2="155.3" stroke="#111" stroke-width="0.65"/>
<line x1="318.7" y1="155.3" x2="314.5" y2="155.3" stroke="#111" stroke-width="0.65"/>
<line x1="53.1" y1="188.7" x2="57.3" y2="188.7" stroke="#111" stroke-width="0.65"/>
<line x1="318.7" y1="188.7" x2="314.5" y2="188.7" stroke="#111" stroke-width="0.65"/>
<line x1="52.6" y1="16.4" x2="319.2" y2="16.4" stroke="#111" stroke-width="1.0"/>
<line x1="318.7" y1="16.4" x2="318.7" y2="194.8" stroke="#222" stroke-width="1.0"/>
<polyline points="57.0,74.2 61.3,73.5 65.6,72.8 69.9,72.2 74.2,71.7 78.5,71.2 82.8,70.8 87.1,70.4 91.4,70.0 95.7,69.6 100.0,69.2 104.3,68.8 108.6,68.4 112.9,68.0 117.2,67.5 121.5,67.1 125.8,66.6 130.1,66.1 134.4,65.6 138.7,65.1 143.0,64.5 147.3,63.9 151.6,63.3 155.9,62.6 160.2,62.0 164.5,61.3 168.8,60.6 173.1,59.9 177.4,59.1 181.7,58.4 186.0,57.6 190.3,56.8 194.6,56.0 198.9,55.2 203.2,54.4 207.5,53.5 211.8,52.7 216.1,51.8 220.4,50.9 224.7,50.0 229.0,49.1 233.3,48.2 237.6,47.2 241.9,46.2 246.2,45.2 250.5,44.1 254.8,43.0 259.1,41.8 263.4,40.6 267.7,39.3 272.0,37.9 276.3,36.4 280.6,34.8 284.9,33.1 289.2,31.2 293.5,29.2 297.8,27.0 302.1,24.6 306.4,22.0 310.7,19.2" fill="none" stroke="#000" stroke-width="1.5" stroke-dasharray="1.5,2.4" />
<path d="M55.3,139.3 C62.4,139.5 86.9,140.2 98.0,140.6 C109.1,141.0 114.0,141.2 122.0,141.6 C130.0,142.0 139.5,142.2 146.0,142.9 C152.5,143.6 156.5,144.4 161.0,146.0 C165.5,147.6 169.8,149.6 173.0,152.5 C176.2,155.4 178.2,159.2 180.0,163.4 C181.8,167.6 182.8,172.8 183.7,177.8 C184.6,182.8 185.1,190.9 185.4,193.5" fill="none" stroke="#000" stroke-width="1.5" stroke-dasharray="8.2,3.6" />
<g transform="translate(49.28,210.40) scale(1.2011,1)">
<text x="0" y="0"><tspan font-size="12" x="0.00" dy="-0.00">−1</tspan></text>
</g>
<g transform="translate(109.08,210.40) scale(1.1334,1)">
<text x="0" y="0"><tspan font-size="12" x="0.00" dy="-0.00">−0.5</tspan></text>
</g>
<g transform="translate(182.88,210.40) scale(1.0000,1)">
<text x="0" y="0"><tspan font-size="12" x="0.00" dy="-0.00">0</tspan></text>
</g>
<g transform="translate(242.68,210.40) scale(1.0224,1)">
<text x="0" y="0"><tspan font-size="12" x="0.00" dy="-0.00">0.5</tspan></text>
</g>
<g transform="translate(311.81,210.40) scale(1.0000,1)">
<text x="0" y="0"><tspan font-size="12" x="0.00" dy="-0.00">1</tspan></text>
</g>
<g transform="translate(28.30,25.40) scale(1.0000,1)">
<text x="0" y="0"><tspan font-size="12" x="0.00" dy="-0.00">10</tspan><tspan font-size="8.4" x="12.30" dy="-4.40">1</tspan></text>
</g>
<g transform="translate(28.30,58.84) scale(1.0000,1)">
<text x="0" y="0"><tspan font-size="12" x="0.00" dy="-0.00">10</tspan><tspan font-size="8.4" x="12.30" dy="-4.40">0</tspan></text>
</g>
<g transform="translate(24.15,92.28) scale(1.0700,1)">
<text x="0" y="0"><tspan font-size="12" x="0.00" dy="-0.00">10</tspan><tspan font-size="8.4" x="12.30" dy="-4.40">-1</tspan></text>
</g>
<g transform="translate(24.15,125.73) scale(1.0700,1)">
<text x="0" y="0"><tspan font-size="12" x="0.00" dy="-0.00">10</tspan><tspan font-size="8.4" x="12.30" dy="-4.40">-2</tspan></text>
</g>
<g transform="translate(24.15,159.17) scale(1.0700,1)">
<text x="0" y="0"><tspan font-size="12" x="0.00" dy="-0.00">10</tspan><tspan font-size="8.4" x="12.30" dy="-4.40">-3</tspan></text>
</g>
<g transform="translate(24.15,192.61) scale(1.0700,1)">
<text x="0" y="0"><tspan font-size="12" x="0.00" dy="-0.00">10</tspan><tspan font-size="8.4" x="12.30" dy="-4.40">-4</tspan></text>
</g>
<g transform="translate(183.00,229.20) scale(1.0000,1)">
<text x="0" y="0"><tspan font-size="12" font-style="italic" x="0.00" dy="-0.00">q</tspan></text>
</g>
<g transform="translate(-1.30,108.70) scale(1.0000,1)">
<text x="0" y="0"><tspan font-size="13.3" font-style="italic" x="0.00" dy="-0.00">D</tspan></text>
</g>
<g transform="translate(276.80,49.00) scale(1.1330,1)">
<text x="0" y="0" stroke="#111" stroke-width="0.45"><tspan font-size="17.5" x="0.00" dy="-0.00">a</tspan></text>
</g>
<rect x="380.7" y="16.4" width="265.6" height="177.6" fill="#c1bada"/>
<rect x="501.2" y="16.4" width="145.1" height="177.6" fill="#fdc584"/>
<polyline points="380.7,166.9 394.0,165.8 407.3,164.4 420.5,163.7 433.8,162.3 447.1,160.6 460.4,158.5 473.7,156.6 487.0,154.7 500.4,151.5 507.2,150.5 520.3,147.4 533.6,143.0 540.1,142.4 547.2,164.5 558.3,162.6 566.2,159.0 572.5,157.4 580.4,164.5 589.9,162.2 600.0,161.0 621.0,160.0 646.3,158.4" fill="none" stroke="#4a4a4a" stroke-width="0.85" stroke-dasharray="3.2,2" />
<polyline points="500.5,193.3 514.0,189.0 526.6,186.7 540.9,183.5 545.6,175.6 553.5,172.4 559.0,162.2 566.2,159.0 579.6,150.0 600.0,150.3 621.0,151.6 646.3,153.7" fill="none" stroke="#000" stroke-width="0.95" stroke-dasharray="4,2" />
<polyline points="500.4,151.8 507.2,150.3 520.3,147.0 533.6,142.8 547.0,137.8 560.1,131.5 572.9,124.3 593.0,105.5 606.8,86.7 619.3,52.7 626.4,16.3" fill="none" stroke="#50545a" stroke-width="2.1" stroke-linejoin="round"/>
<circle cx="380.7" cy="166.9" r="2.45" fill="#50545a"/>
<circle cx="394.0" cy="165.8" r="2.45" fill="#50545a"/>
<circle cx="407.3" cy="164.4" r="2.45" fill="#50545a"/>
<circle cx="420.5" cy="163.7" r="2.45" fill="#50545a"/>
<circle cx="433.8" cy="162.3" r="2.45" fill="#50545a"/>
<circle cx="447.1" cy="160.6" r="2.45" fill="#50545a"/>
<circle cx="460.4" cy="158.5" r="2.45" fill="#50545a"/>
<circle cx="473.7" cy="156.6" r="2.45" fill="#50545a"/>
<circle cx="487.0" cy="154.7" r="2.45" fill="#50545a"/>
<circle cx="500.4" cy="151.5" r="2.45" fill="#50545a"/>
<circle cx="507.2" cy="150.5" r="2.45" fill="#50545a"/>
<circle cx="520.3" cy="147.4" r="2.45" fill="#50545a"/>
<circle cx="533.6" cy="143.0" r="2.45" fill="#50545a"/>
<circle cx="547.0" cy="138.5" r="2.45" fill="#50545a"/>
<circle cx="560.1" cy="132.5" r="2.45" fill="#50545a"/>
<circle cx="573.4" cy="125.9" r="2.45" fill="#50545a"/>
<circle cx="586.7" cy="117.3" r="2.45" fill="#50545a"/>
<circle cx="599.7" cy="105.0" r="2.45" fill="#50545a"/>
<circle cx="613.0" cy="80.6" r="2.45" fill="#50545a"/>
<circle cx="619.8" cy="58.5" r="2.45" fill="#50545a"/>
<circle cx="626.5" cy="15.4" r="2.45" fill="#50545a"/>
<path d="M500.5,193.8 C502.7,192.7 508.8,189.0 513.6,187.3 C518.4,185.6 523.8,184.8 529.3,183.8 C534.8,182.8 539.6,182.1 546.9,181.2 C554.2,180.3 564.4,179.2 573.3,178.6 C582.2,177.9 593.5,177.6 600.1,177.3 C606.8,177.0 608.0,176.9 613.2,177.0 C618.4,177.1 626.7,177.6 631.5,178.1 C636.3,178.6 639.5,179.2 642.0,179.9 C644.5,180.6 645.6,181.9 646.3,182.3" fill="none" stroke="#000" stroke-width="2.05" />
<line x1="380.7" y1="194.0" x2="380.7" y2="189.8" stroke="#111" stroke-width="0.65"/>
<line x1="380.7" y1="16.4" x2="380.7" y2="20.6" stroke="#111" stroke-width="0.65"/>
<line x1="447.1" y1="194.0" x2="447.1" y2="189.8" stroke="#111" stroke-width="0.65"/>
<line x1="447.1" y1="16.4" x2="447.1" y2="20.6" stroke="#111" stroke-width="0.65"/>
<line x1="513.5" y1="194.0" x2="513.5" y2="189.8" stroke="#111" stroke-width="0.65"/>
<line x1="513.5" y1="16.4" x2="513.5" y2="20.6" stroke="#111" stroke-width="0.65"/>
<line x1="579.9" y1="194.0" x2="579.9" y2="189.8" stroke="#111" stroke-width="0.65"/>
<line x1="579.9" y1="16.4" x2="579.9" y2="20.6" stroke="#111" stroke-width="0.65"/>
<line x1="646.3" y1="194.0" x2="646.3" y2="189.8" stroke="#111" stroke-width="0.65"/>
<line x1="646.3" y1="16.4" x2="646.3" y2="20.6" stroke="#111" stroke-width="0.65"/>
<line x1="380.7" y1="194.0" x2="384.9" y2="194.0" stroke="#111" stroke-width="0.65"/>
<line x1="646.3" y1="194.0" x2="642.1" y2="194.0" stroke="#111" stroke-width="0.65"/>
<line x1="380.7" y1="149.6" x2="384.9" y2="149.6" stroke="#111" stroke-width="0.65"/>
<line x1="646.3" y1="149.6" x2="642.1" y2="149.6" stroke="#111" stroke-width="0.65"/>
<line x1="380.7" y1="105.2" x2="384.9" y2="105.2" stroke="#111" stroke-width="0.65"/>
<line x1="646.3" y1="105.2" x2="642.1" y2="105.2" stroke="#111" stroke-width="0.65"/>
<line x1="380.7" y1="60.8" x2="384.9" y2="60.8" stroke="#111" stroke-width="0.65"/>
<line x1="646.3" y1="60.8" x2="642.1" y2="60.8" stroke="#111" stroke-width="0.65"/>
<line x1="380.7" y1="16.4" x2="384.9" y2="16.4" stroke="#111" stroke-width="0.65"/>
<line x1="646.3" y1="16.4" x2="642.1" y2="16.4" stroke="#111" stroke-width="0.65"/>
<line x1="380.7" y1="171.8" x2="382.9" y2="171.8" stroke="#111" stroke-width="0.65"/>
<line x1="646.3" y1="171.8" x2="644.1" y2="171.8" stroke="#111" stroke-width="0.65"/>
<line x1="380.7" y1="127.4" x2="382.9" y2="127.4" stroke="#111" stroke-width="0.65"/>
<line x1="646.3" y1="127.4" x2="644.1" y2="127.4" stroke="#111" stroke-width="0.65"/>
<line x1="380.7" y1="83.0" x2="382.9" y2="83.0" stroke="#111" stroke-width="0.65"/>
<line x1="646.3" y1="83.0" x2="644.1" y2="83.0" stroke="#111" stroke-width="0.65"/>
<line x1="380.7" y1="38.6" x2="382.9" y2="38.6" stroke="#111" stroke-width="0.65"/>
<line x1="646.3" y1="38.6" x2="644.1" y2="38.6" stroke="#111" stroke-width="0.65"/>
<path d="M499.5,194.0 L646.3,194.0 L646.3,16.4 L380.7,16.4 L380.7,194.5" fill="none" stroke="#000" stroke-width="1.1"/>
<line x1="380.7" y1="193.8" x2="500.5" y2="193.8" stroke="#5c5c5c" stroke-width="1.75"/>
<circle cx="380.7" cy="194.0" r="2.3" fill="none" stroke="#151515" stroke-width="0.75"/>
<circle cx="394.0" cy="194.0" r="2.3" fill="none" stroke="#151515" stroke-width="0.75"/>
<circle cx="407.3" cy="194.0" r="2.3" fill="none" stroke="#151515" stroke-width="0.75"/>
<circle cx="420.5" cy="194.0" r="2.3" fill="none" stroke="#151515" stroke-width="0.75"/>
<circle cx="433.8" cy="194.0" r="2.3" fill="none" stroke="#151515" stroke-width="0.75"/>
<circle cx="447.1" cy="194.0" r="2.3" fill="none" stroke="#151515" stroke-width="0.75"/>
<circle cx="460.4" cy="194.0" r="2.3" fill="none" stroke="#151515" stroke-width="0.75"/>
<circle cx="473.7" cy="194.0" r="2.3" fill="none" stroke="#151515" stroke-width="0.75"/>
<circle cx="486.9" cy="194.0" r="2.3" fill="none" stroke="#151515" stroke-width="0.75"/>
<circle cx="500.2" cy="194.0" r="2.3" fill="none" stroke="#151515" stroke-width="0.75"/>
<circle cx="507.0" cy="189.1" r="2.3" fill="none" stroke="#151515" stroke-width="0.75"/>
<circle cx="520.1" cy="185.1" r="2.3" fill="none" stroke="#151515" stroke-width="0.75"/>
<circle cx="533.5" cy="183.3" r="2.3" fill="none" stroke="#151515" stroke-width="0.75"/>
<circle cx="546.9" cy="179.9" r="2.3" fill="none" stroke="#151515" stroke-width="0.75"/>
<circle cx="560.0" cy="179.1" r="2.3" fill="none" stroke="#151515" stroke-width="0.75"/>
<circle cx="573.3" cy="178.1" r="2.3" fill="none" stroke="#151515" stroke-width="0.75"/>
<circle cx="586.4" cy="177.6" r="2.3" fill="none" stroke="#151515" stroke-width="0.75"/>
<circle cx="600.1" cy="176.8" r="2.3" fill="none" stroke="#151515" stroke-width="0.75"/>
<circle cx="613.2" cy="177.0" r="2.3" fill="none" stroke="#151515" stroke-width="0.75"/>
<circle cx="626.5" cy="176.0" r="2.3" fill="none" stroke="#151515" stroke-width="0.75"/>
<circle cx="639.9" cy="177.8" r="2.3" fill="none" stroke="#151515" stroke-width="0.75"/>
<g transform="translate(373.03,210.40) scale(1.2011,1)">
<text x="0" y="0"><tspan font-size="12" x="0.00" dy="-0.00">−1</tspan></text>
</g>
<g transform="translate(434.76,210.40) scale(1.1334,1)">
<text x="0" y="0"><tspan font-size="12" x="0.00" dy="-0.00">−0.5</tspan></text>
</g>
<g transform="translate(510.50,210.40) scale(1.0000,1)">
<text x="0" y="0"><tspan font-size="12" x="0.00" dy="-0.00">0</tspan></text>
</g>
<g transform="translate(572.23,210.40) scale(1.0224,1)">
<text x="0" y="0"><tspan font-size="12" x="0.00" dy="-0.00">0.5</tspan></text>
</g>
<g transform="translate(643.30,210.40) scale(1.0000,1)">
<text x="0" y="0"><tspan font-size="12" x="0.00" dy="-0.00">1</tspan></text>
</g>
<g transform="translate(367.40,197.90) scale(1.0000,1)">
<text x="0" y="0"><tspan font-size="12" x="0.00" dy="-0.00">0</tspan></text>
</g>
<g transform="translate(367.40,153.50) scale(1.0000,1)">
<text x="0" y="0"><tspan font-size="12" x="0.00" dy="-0.00">2</tspan></text>
</g>
<g transform="translate(367.40,109.10) scale(1.0000,1)">
<text x="0" y="0"><tspan font-size="12" x="0.00" dy="-0.00">4</tspan></text>
</g>
<g transform="translate(367.40,64.70) scale(1.0000,1)">
<text x="0" y="0"><tspan font-size="12" x="0.00" dy="-0.00">6</tspan></text>
</g>
<g transform="translate(367.40,20.30) scale(1.0000,1)">
<text x="0" y="0"><tspan font-size="12" x="0.00" dy="-0.00">8</tspan></text>
</g>
<g transform="translate(510.50,229.20) scale(1.0000,1)">
<text x="0" y="0"><tspan font-size="12" font-style="italic" x="0.00" dy="-0.00">q</tspan></text>
</g>
<g transform="translate(604.70,49.80) scale(1.0971,1)">
<text x="0" y="0" stroke="#111" stroke-width="0.45"><tspan font-size="17.5" x="0.00" dy="-0.00">b</tspan></text>
</g>
<g transform="translate(394.40,34.90) scale(1.2328,1)">
<text x="0" y="0"><tspan font-size="9.6" font-weight="bold" x="0.00" dy="-0.00">wavelength</tspan></text>
</g>
<g transform="translate(394.40,100.40) scale(1.2766,1)">
<text x="0" y="0"><tspan font-size="9.6" font-weight="bold" x="0.00" dy="-0.00">inverse decay length</tspan></text>
</g>
<circle cx="401.6" cy="46.0" r="2.2" fill="#50545a"/>
<line x1="394.5" y1="61.9" x2="408.9" y2="61.9" stroke="#50545a" stroke-width="2.0"/>
<line x1="394.5" y1="78" x2="408.9" y2="78" stroke="#4a4a4a" stroke-width="0.85" stroke-dasharray="3.2,2"/>
<circle cx="401.6" cy="110.2" r="2.2" fill="none" stroke="#2a2a2a" stroke-width="0.6"/>
<line x1="394.5" y1="125.7" x2="408.9" y2="125.7" stroke="#000" stroke-width="2.0"/>
<line x1="394.5" y1="142.2" x2="408.9" y2="142.2" stroke="#111" stroke-width="0.8" stroke-dasharray="4,2"/>
<g transform="translate(416.50,50.20) scale(1.2384,1)">
<text x="0" y="0" stroke="#111" stroke-width="0.1"><tspan font-size="12" x="0.00" dy="-0.00">2</tspan><tspan font-size="12" font-style="italic" x="6.00">π</tspan><tspan font-size="12" x="12.01">/</tspan><tspan font-size="12" font-style="italic" x="15.35">k</tspan></text>
<line x1="16.15" y1="-9.30" x2="21.27" y2="-9.30" stroke="#111" stroke-width="0.7"/>
</g>
<g transform="translate(450.60,50.00) scale(1.2408,1)">
<text x="0" y="0"><tspan font-size="8.4" x="0.00" dy="-0.00">(numer.)</tspan></text>
</g>
<g transform="translate(416.50,66.00) scale(1.2634,1)">
<text x="0" y="0" stroke="#111" stroke-width="0.1"><tspan font-size="12" x="0.00" dy="-0.00">2</tspan><tspan font-size="12" font-style="italic" x="6.00">π</tspan><tspan font-size="12" x="12.01">/</tspan><tspan font-size="12" font-style="italic" x="15.35">k</tspan><tspan font-size="8.2" font-style="italic" x="20.87" dy="1.80">r</tspan></text>
</g>
<g transform="translate(450.60,65.80) scale(1.3153,1)">
<text x="0" y="0"><tspan font-size="8.4" x="0.00" dy="-0.00">(theor. 1)</tspan></text>
</g>
<g transform="translate(416.50,82.20) scale(1.0602,1)">
<text x="0" y="0" stroke="#111" stroke-width="0.1"><tspan font-size="12" x="0.00" dy="-0.00">2</tspan><tspan font-size="12" font-style="italic" x="6.00">π</tspan><tspan font-size="12" x="12.01">/</tspan><tspan font-size="12" font-style="italic" x="15.35">k</tspan><tspan font-size="11" x="20.87" dy="-3.00">⋆</tspan></text>
</g>
<g transform="translate(450.60,82.00) scale(1.3153,1)">
<text x="0" y="0"><tspan font-size="8.4" x="0.00" dy="-0.00">(theor. 2)</tspan></text>
</g>
<g transform="translate(416.40,114.70) scale(1.2551,1)">
<text x="0" y="0" stroke="#111" stroke-width="0.1"><tspan font-size="12" x="0.00" dy="-0.00">1</tspan><tspan font-size="12" x="6.00">/</tspan><tspan font-size="12" font-style="italic" x="9.33">x</tspan></text>
<line x1="9.83" y1="-7.00" x2="14.66" y2="-7.00" stroke="#111" stroke-width="0.7"/>
</g>
<g transform="translate(450.60,114.00) scale(1.2408,1)">
<text x="0" y="0"><tspan font-size="8.4" x="0.00" dy="-0.00">(numer.)</tspan></text>
</g>
<g transform="translate(416.40,129.60) scale(1.2045,1)">
<text x="0" y="0" stroke="#111" stroke-width="0.1"><tspan font-size="12" font-style="italic" x="0.00" dy="-0.00">k</tspan><tspan font-size="8.2" font-style="italic" x="5.53" dy="1.80">i</tspan></text>
</g>
<g transform="translate(450.60,129.60) scale(1.3153,1)">
<text x="0" y="0"><tspan font-size="8.4" x="0.00" dy="-0.00">(theor. 1)</tspan></text>
</g>
<g transform="translate(416.40,146.20) scale(1.2871,1)">
<text x="0" y="0" stroke="#111" stroke-width="0.1"><tspan font-size="12" x="0.00" dy="-0.00">Δ</tspan><tspan font-size="12" font-style="italic" x="7.72">k</tspan><tspan font-size="12" x="13.04">/</tspan><tspan font-size="12" x="16.38">2</tspan></text>
</g>
<g transform="translate(450.60,146.00) scale(1.3153,1)">
<text x="0" y="0"><tspan font-size="8.4" x="0.00" dy="-0.00">(theor. 2)</tspan></text>
</g>
<rect x="53.1" y="256.3" width="265.6" height="177.1" fill="#c1bada"/>
<rect x="129.4" y="256.3" width="189.3" height="177.1" fill="#fdc584"/>
<rect x="244.5" y="256.3" width="74.2" height="177.1" fill="#dedede"/>
<path d="M52.9,389.6 C57.4,389.6 71.2,389.4 80.0,389.3 C88.8,389.2 99.3,389.0 106.0,388.9 C112.7,388.8 116.5,388.6 120.0,388.4 C123.5,388.2 124.9,387.9 127.1,387.7 C129.2,387.5 130.3,387.6 132.9,387.3 C135.5,387.0 139.9,386.4 142.8,386.0 C145.7,385.6 147.8,385.2 150.5,384.8 C153.2,384.4 156.5,384.0 159.1,383.5 C161.7,383.0 164.4,382.2 166.2,381.8 C168.0,381.4 168.5,381.4 170.0,381.0 C171.5,380.6 172.3,380.8 175.2,379.7 C178.1,378.6 183.9,376.6 187.5,374.5 C191.1,372.4 193.5,370.4 196.7,366.9 C199.9,363.4 204.0,358.5 206.8,353.5 C209.6,348.5 211.7,342.3 213.5,336.7 C215.3,331.1 216.6,327.5 217.7,320.0 C218.8,312.5 219.4,302.4 220.2,291.9 C221.0,281.4 222.0,262.8 222.4,257.0" fill="none" stroke="#4a4a4a" stroke-width="0.85" stroke-dasharray="3.2,2" />
<polyline points="129.1,433.2 133.0,428.0 141.1,421.2 158.0,411.7 183.3,401.1 204.3,393.8 221.4,386.6 224.4,371.6 226.5,359.3 230.2,370.2 236.9,383.6 241.3,390.2 247.6,399.6 255.9,406.9 266.4,413.2 276.8,417.4 289.4,421.2 304.0,424.1 319.0,426.2" fill="none" stroke="#000" stroke-width="0.95" stroke-dasharray="4,2" />
<path d="M127.1,387.7 C128.1,387.6 130.3,387.6 132.9,387.3 C135.5,387.0 139.9,386.4 142.8,386.0 C145.7,385.6 147.8,385.2 150.5,384.8 C153.2,384.4 156.5,384.0 159.1,383.5 C161.7,383.0 164.4,382.2 166.2,381.8 C168.0,381.4 168.5,381.4 170.0,381.0 C171.5,380.6 173.2,380.2 175.2,379.7 C177.2,379.2 179.9,378.7 181.9,378.1 C183.9,377.6 185.3,377.3 187.3,376.4 C189.3,375.4 191.9,373.6 194.0,372.4 C196.1,371.2 197.9,370.2 199.9,369.0 C201.9,367.8 204.1,366.7 206.2,365.1 C208.3,363.5 210.6,361.1 212.4,359.2 C214.2,357.3 215.6,355.7 217.1,353.6 C218.6,351.6 219.8,350.5 221.7,346.9 C223.6,343.3 226.7,337.2 228.6,332.1 C230.5,327.0 231.7,323.6 233.2,316.1 C234.7,308.6 236.9,294.0 237.8,287.2 C238.8,280.4 238.6,280.2 238.9,275.1 C239.2,270.0 239.7,259.5 239.8,256.4" fill="none" stroke="#50545a" stroke-width="2.1" />
<circle cx="52.9" cy="389.9" r="2.45" fill="#50545a"/>
<circle cx="62.2" cy="389.9" r="2.45" fill="#50545a"/>
<circle cx="69.0" cy="389.9" r="2.45" fill="#50545a"/>
<circle cx="76.0" cy="388.8" r="2.45" fill="#50545a"/>
<circle cx="83.2" cy="389.5" r="2.45" fill="#50545a"/>
<circle cx="90.2" cy="388.4" r="2.45" fill="#50545a"/>
<circle cx="97.9" cy="388.4" r="2.45" fill="#50545a"/>
<circle cx="106.2" cy="389.0" r="2.45" fill="#50545a"/>
<circle cx="113.0" cy="388.7" r="2.45" fill="#50545a"/>
<circle cx="120.1" cy="388.6" r="2.45" fill="#50545a"/>
<circle cx="127.1" cy="387.7" r="2.45" fill="#50545a"/>
<circle cx="132.9" cy="387.3" r="2.45" fill="#50545a"/>
<circle cx="142.8" cy="386.0" r="2.45" fill="#50545a"/>
<circle cx="150.5" cy="384.8" r="2.45" fill="#50545a"/>
<circle cx="159.1" cy="383.5" r="2.45" fill="#50545a"/>
<circle cx="166.2" cy="381.8" r="2.45" fill="#50545a"/>
<circle cx="170.0" cy="381.0" r="2.45" fill="#50545a"/>
<circle cx="175.2" cy="379.7" r="2.45" fill="#50545a"/>
<circle cx="181.9" cy="378.1" r="2.45" fill="#50545a"/>
<circle cx="187.3" cy="376.4" r="2.45" fill="#50545a"/>
<circle cx="194.0" cy="372.4" r="2.45" fill="#50545a"/>
<circle cx="199.9" cy="369.0" r="2.45" fill="#50545a"/>
<circle cx="206.2" cy="365.1" r="2.45" fill="#50545a"/>
<circle cx="212.4" cy="359.2" r="2.45" fill="#50545a"/>
<circle cx="217.1" cy="353.6" r="2.45" fill="#50545a"/>
<circle cx="221.7" cy="346.9" r="2.45" fill="#50545a"/>
<circle cx="228.6" cy="332.1" r="2.45" fill="#50545a"/>
<circle cx="233.2" cy="316.1" r="2.45" fill="#50545a"/>
<circle cx="237.8" cy="287.2" r="2.45" fill="#50545a"/>
<path d="M129.1,433.2 C129.7,432.2 131.3,428.7 132.5,427.0 C133.7,425.3 134.6,424.3 136.0,422.8 C137.4,421.3 138.9,419.9 141.1,418.0 C143.3,416.1 146.2,413.4 149.0,411.3 C151.8,409.2 154.5,407.6 158.0,405.4 C161.5,403.2 165.8,400.7 170.0,398.2 C174.2,395.7 177.6,393.8 183.3,390.6 C189.0,387.4 197.3,383.0 204.3,379.0 C211.3,375.0 218.7,370.6 225.4,366.7 C232.1,362.8 241.3,357.7 244.5,355.9" fill="none" stroke="#000" stroke-width="2.05" />
<path d="M244.5,355.9 C245.0,358.1 246.4,365.0 247.6,369.3 C248.8,373.6 250.0,377.6 251.7,381.8 C253.4,386.0 255.6,390.9 258.0,394.4 C260.4,397.9 263.3,400.2 266.4,402.8 C269.5,405.4 273.0,407.8 276.8,410.1 C280.6,412.4 284.9,414.5 289.4,416.4 C293.9,418.2 299.1,419.9 304.0,421.2 C308.9,422.5 316.5,423.8 319.0,424.3" fill="none" stroke="#000" stroke-width="2.05" />
<line x1="53.1" y1="433.4" x2="53.1" y2="429.2" stroke="#111" stroke-width="0.65"/>
<line x1="53.1" y1="256.3" x2="53.1" y2="260.5" stroke="#111" stroke-width="0.65"/>
<line x1="106.2" y1="433.4" x2="106.2" y2="429.2" stroke="#111" stroke-width="0.65"/>
<line x1="106.2" y1="256.3" x2="106.2" y2="260.5" stroke="#111" stroke-width="0.65"/>
<line x1="159.3" y1="433.4" x2="159.3" y2="429.2" stroke="#111" stroke-width="0.65"/>
<line x1="159.3" y1="256.3" x2="159.3" y2="260.5" stroke="#111" stroke-width="0.65"/>
<line x1="212.5" y1="433.4" x2="212.5" y2="429.2" stroke="#111" stroke-width="0.65"/>
<line x1="212.5" y1="256.3" x2="212.5" y2="260.5" stroke="#111" stroke-width="0.65"/>
<line x1="265.6" y1="433.4" x2="265.6" y2="429.2" stroke="#111" stroke-width="0.65"/>
<line x1="265.6" y1="256.3" x2="265.6" y2="260.5" stroke="#111" stroke-width="0.65"/>
<line x1="318.7" y1="433.4" x2="318.7" y2="429.2" stroke="#111" stroke-width="0.65"/>
<line x1="318.7" y1="256.3" x2="318.7" y2="260.5" stroke="#111" stroke-width="0.65"/>
<line x1="53.1" y1="433.4" x2="57.3" y2="433.4" stroke="#111" stroke-width="0.65"/>
<line x1="318.7" y1="433.4" x2="314.5" y2="433.4" stroke="#111" stroke-width="0.65"/>
<line x1="53.1" y1="374.3" x2="57.3" y2="374.3" stroke="#111" stroke-width="0.65"/>
<line x1="318.7" y1="374.3" x2="314.5" y2="374.3" stroke="#111" stroke-width="0.65"/>
<line x1="53.1" y1="315.2" x2="57.3" y2="315.2" stroke="#111" stroke-width="0.65"/>
<line x1="318.7" y1="315.2" x2="314.5" y2="315.2" stroke="#111" stroke-width="0.65"/>
<line x1="53.1" y1="256.1" x2="57.3" y2="256.1" stroke="#111" stroke-width="0.65"/>
<line x1="318.7" y1="256.1" x2="314.5" y2="256.1" stroke="#111" stroke-width="0.65"/>
<line x1="53.1" y1="403.8" x2="55.3" y2="403.8" stroke="#111" stroke-width="0.65"/>
<line x1="318.7" y1="403.8" x2="316.5" y2="403.8" stroke="#111" stroke-width="0.65"/>
<line x1="53.1" y1="344.8" x2="55.3" y2="344.8" stroke="#111" stroke-width="0.65"/>
<line x1="318.7" y1="344.8" x2="316.5" y2="344.8" stroke="#111" stroke-width="0.65"/>
<line x1="53.1" y1="285.6" x2="55.3" y2="285.6" stroke="#111" stroke-width="0.65"/>
<line x1="318.7" y1="285.6" x2="316.5" y2="285.6" stroke="#111" stroke-width="0.65"/>
<rect x="53.1" y="256.3" width="265.6" height="177.1" fill="none" stroke="#000" stroke-width="1.1"/>
<circle cx="53.1" cy="433.4" r="2.3" fill="none" stroke="#151515" stroke-width="0.75"/>
<circle cx="62.1" cy="433.4" r="2.3" fill="none" stroke="#151515" stroke-width="0.75"/>
<circle cx="68.9" cy="433.4" r="2.3" fill="none" stroke="#151515" stroke-width="0.75"/>
<circle cx="75.7" cy="433.4" r="2.3" fill="none" stroke="#151515" stroke-width="0.75"/>
<circle cx="83.2" cy="433.4" r="2.3" fill="none" stroke="#151515" stroke-width="0.75"/>
<circle cx="90.4" cy="433.4" r="2.3" fill="none" stroke="#151515" stroke-width="0.75"/>
<circle cx="97.5" cy="433.4" r="2.3" fill="none" stroke="#151515" stroke-width="0.75"/>
<circle cx="105.8" cy="433.4" r="2.3" fill="none" stroke="#151515" stroke-width="0.75"/>
<circle cx="112.6" cy="433.4" r="2.3" fill="none" stroke="#151515" stroke-width="0.75"/>
<circle cx="120.1" cy="433.4" r="2.3" fill="none" stroke="#151515" stroke-width="0.75"/>
<circle cx="126.9" cy="433.4" r="2.3" fill="none" stroke="#151515" stroke-width="0.75"/>
<circle cx="132.9" cy="425.4" r="2.3" fill="none" stroke="#151515" stroke-width="0.75"/>
<circle cx="143.4" cy="415.7" r="2.3" fill="none" stroke="#151515" stroke-width="0.75"/>
<circle cx="150.7" cy="410.1" r="2.3" fill="none" stroke="#151515" stroke-width="0.75"/>
<circle cx="159.1" cy="404.9" r="2.3" fill="none" stroke="#151515" stroke-width="0.75"/>
<circle cx="166.2" cy="400.7" r="2.3" fill="none" stroke="#151515" stroke-width="0.75"/>
<circle cx="170.6" cy="398.2" r="2.3" fill="none" stroke="#151515" stroke-width="0.75"/>
<circle cx="175.2" cy="396.1" r="2.3" fill="none" stroke="#151515" stroke-width="0.75"/>
<circle cx="181.9" cy="391.3" r="2.3" fill="none" stroke="#151515" stroke-width="0.75"/>
<circle cx="187.3" cy="389.6" r="2.3" fill="none" stroke="#151515" stroke-width="0.75"/>
<circle cx="194.0" cy="385.0" r="2.3" fill="none" stroke="#151515" stroke-width="0.75"/>
<circle cx="201.4" cy="380.8" r="2.3" fill="none" stroke="#151515" stroke-width="0.75"/>
<circle cx="206.2" cy="377.7" r="2.3" fill="none" stroke="#151515" stroke-width="0.75"/>
<circle cx="212.4" cy="373.5" r="2.3" fill="none" stroke="#151515" stroke-width="0.75"/>
<circle cx="217.1" cy="371.0" r="2.3" fill="none" stroke="#151515" stroke-width="0.75"/>
<circle cx="221.7" cy="368.2" r="2.3" fill="none" stroke="#151515" stroke-width="0.75"/>
<circle cx="227.5" cy="364.4" r="2.3" fill="none" stroke="#151515" stroke-width="0.75"/>
<circle cx="232.7" cy="361.5" r="2.3" fill="none" stroke="#151515" stroke-width="0.75"/>
<circle cx="237.5" cy="358.6" r="2.3" fill="none" stroke="#151515" stroke-width="0.75"/>
<circle cx="241.5" cy="355.8" r="2.3" fill="none" stroke="#151515" stroke-width="0.75"/>
<circle cx="245.0" cy="352.4" r="2.3" fill="none" stroke="#151515" stroke-width="0.75"/>
<circle cx="247.1" cy="366.2" r="2.3" fill="none" stroke="#151515" stroke-width="0.75"/>
<circle cx="249.2" cy="376.6" r="2.3" fill="none" stroke="#151515" stroke-width="0.75"/>
<circle cx="250.7" cy="381.8" r="2.3" fill="none" stroke="#151515" stroke-width="0.75"/>
<circle cx="255.5" cy="389.8" r="2.3" fill="none" stroke="#151515" stroke-width="0.75"/>
<circle cx="258.4" cy="392.3" r="2.3" fill="none" stroke="#151515" stroke-width="0.75"/>
<circle cx="262.2" cy="398.6" r="2.3" fill="none" stroke="#151515" stroke-width="0.75"/>
<circle cx="265.3" cy="400.7" r="2.3" fill="none" stroke="#151515" stroke-width="0.75"/>
<circle cx="281.4" cy="410.1" r="2.3" fill="none" stroke="#151515" stroke-width="0.75"/>
<circle cx="291.1" cy="414.7" r="2.3" fill="none" stroke="#151515" stroke-width="0.75"/>
<circle cx="302.4" cy="419.5" r="2.3" fill="none" stroke="#151515" stroke-width="0.75"/>
<circle cx="310.7" cy="422.2" r="2.3" fill="none" stroke="#151515" stroke-width="0.75"/>
<circle cx="319.0" cy="424.7" r="2.3" fill="none" stroke="#151515" stroke-width="0.75"/>
<g transform="translate(42.48,449.40) scale(1.0700,1)">
<text x="0" y="0"><tspan font-size="12" x="0.00" dy="-0.00">10</tspan><tspan font-size="8.4" x="12.30" dy="-4.40">-4</tspan></text>
</g>
<g transform="translate(95.60,449.40) scale(1.0700,1)">
<text x="0" y="0"><tspan font-size="12" x="0.00" dy="-0.00">10</tspan><tspan font-size="8.4" x="12.30" dy="-4.40">-3</tspan></text>
</g>
<g transform="translate(148.72,449.40) scale(1.0700,1)">
<text x="0" y="0"><tspan font-size="12" x="0.00" dy="-0.00">10</tspan><tspan font-size="8.4" x="12.30" dy="-4.40">-2</tspan></text>
</g>
<g transform="translate(201.84,449.40) scale(1.0700,1)">
<text x="0" y="0"><tspan font-size="12" x="0.00" dy="-0.00">10</tspan><tspan font-size="8.4" x="12.30" dy="-4.40">-1</tspan></text>
</g>
<g transform="translate(257.03,449.40) scale(1.0000,1)">
<text x="0" y="0"><tspan font-size="12" x="0.00" dy="-0.00">10</tspan><tspan font-size="8.4" x="12.30" dy="-4.40">0</tspan></text>
</g>
<g transform="translate(310.15,449.40) scale(1.0000,1)">
<text x="0" y="0"><tspan font-size="12" x="0.00" dy="-0.00">10</tspan><tspan font-size="8.4" x="12.30" dy="-4.40">1</tspan></text>
</g>
<g transform="translate(39.40,437.30) scale(1.0000,1)">
<text x="0" y="0"><tspan font-size="12" x="0.00" dy="-0.00">0</tspan></text>
</g>
<g transform="translate(39.40,378.20) scale(1.0000,1)">
<text x="0" y="0"><tspan font-size="12" x="0.00" dy="-0.00">2</tspan></text>
</g>
<g transform="translate(39.40,319.10) scale(1.0000,1)">
<text x="0" y="0"><tspan font-size="12" x="0.00" dy="-0.00">4</tspan></text>
</g>
<g transform="translate(39.40,260.00) scale(1.0000,1)">
<text x="0" y="0"><tspan font-size="12" x="0.00" dy="-0.00">6</tspan></text>
</g>
<g transform="translate(181.50,467.20) scale(1.0000,1)">
<text x="0" y="0"><tspan font-size="13.3" font-style="italic" x="0.00" dy="-0.00">D</tspan></text>
</g>
<g transform="translate(287.30,288.00) scale(1.0000,1)">
<text x="0" y="0"><tspan font-size="17.5" font-weight="bold" x="0.00" dy="-0.00">c</tspan></text>
</g>
<rect x="380.7" y="256.3" width="265.6" height="177.1" fill="#fdc584"/>
<rect x="609.6" y="256.3" width="36.7" height="177.1" fill="#dedede"/>
<polyline points="380.7,418.5 389.8,415.4 405.6,414.3 418.2,409.5 431.9,408.0 442.5,399.5 470.5,394.9 478.6,378.3 497.3,371.3 515.0,365.4 524.1,362.4 540.2,353.3 548.2,346.0 555.9,338.0 563.9,324.7 569.9,305.4 575.9,281.3 578.3,256.5" fill="none" stroke="#4a4a4a" stroke-width="0.85" stroke-dasharray="3.2,2" />
<polyline points="380.7,363.7 395.0,376.4 406.6,379.1 418.2,388.0 434.0,394.3 442.5,400.2 449.8,403.1 459.3,403.1 470.9,405.2 480.4,409.0 493.1,414.3 503.6,417.9 515.0,418.3 524.1,420.7 548.2,420.7 572.3,418.3 584.3,414.7 592.8,412.3 601.2,417.1 609.6,421.9 625.3,425.5 646.3,428.0" fill="none" stroke="#000" stroke-width="0.95" stroke-dasharray="4,2" />
<path d="M380.7,366.9 C387.2,366.9 410.4,366.9 420.0,366.9 C429.6,366.9 431.8,366.8 438.3,366.7 C444.9,366.6 452.3,366.4 459.3,366.0 C466.3,365.6 473.4,365.1 480.4,364.3 C487.4,363.5 495.7,362.1 501.5,361.0 C507.3,359.9 511.2,359.0 515.0,358.0 C518.8,357.0 519.9,356.8 524.1,355.2 C528.3,353.6 534.9,351.2 540.2,348.3 C545.5,345.4 551.6,341.2 555.9,338.0 C560.2,334.8 562.5,333.2 566.0,329.0 C569.5,324.8 574.0,318.3 577.1,312.7 C580.2,307.1 582.6,300.8 584.8,295.3 C586.9,289.9 588.5,284.9 590.0,280.0 C591.5,275.1 592.8,270.0 593.5,266.1 C594.2,262.2 594.3,258.0 594.5,256.4" fill="none" stroke="#50545a" stroke-width="2.1" />
<circle cx="380.7" cy="368.6" r="2.45" fill="#50545a"/>
<circle cx="396.7" cy="371.1" r="2.45" fill="#50545a"/>
<circle cx="406.2" cy="370.0" r="2.45" fill="#50545a"/>
<circle cx="418.2" cy="371.1" r="2.45" fill="#50545a"/>
<circle cx="425.6" cy="370.5" r="2.45" fill="#50545a"/>
<circle cx="434.0" cy="370.0" r="2.45" fill="#50545a"/>
<circle cx="443.1" cy="369.4" r="2.45" fill="#50545a"/>
<circle cx="449.8" cy="369.2" r="2.45" fill="#50545a"/>
<circle cx="459.3" cy="366.9" r="2.45" fill="#50545a"/>
<circle cx="470.9" cy="366.0" r="2.45" fill="#50545a"/>
<circle cx="478.7" cy="365.4" r="2.45" fill="#50545a"/>
<circle cx="486.7" cy="364.3" r="2.45" fill="#50545a"/>
<circle cx="496.7" cy="362.7" r="2.45" fill="#50545a"/>
<circle cx="503.0" cy="361.3" r="2.45" fill="#50545a"/>
<circle cx="512.0" cy="359.4" r="2.45" fill="#50545a"/>
<circle cx="524.1" cy="355.7" r="2.45" fill="#50545a"/>
<circle cx="531.8" cy="352.5" r="2.45" fill="#50545a"/>
<circle cx="540.2" cy="348.6" r="2.45" fill="#50545a"/>
<circle cx="555.9" cy="338.0" r="2.45" fill="#50545a"/>
<circle cx="565.5" cy="331.4" r="2.45" fill="#50545a"/>
<circle cx="577.1" cy="312.7" r="2.45" fill="#50545a"/>
<circle cx="584.8" cy="295.3" r="2.45" fill="#50545a"/>
<circle cx="593.5" cy="266.1" r="2.45" fill="#50545a"/>
<path d="M380.7,419.2 C400.6,419.2 476.1,419.2 500.0,419.1 C523.9,419.0 516.1,418.7 524.1,418.3 C532.1,417.9 540.2,417.3 548.2,416.6 C556.2,415.9 564.7,415.0 572.3,414.2 C579.9,413.4 587.8,412.5 594.0,411.8 C600.2,411.1 607.0,410.2 609.6,409.9" fill="none" stroke="#000" stroke-width="2.05" />
<path d="M609.6,409.9 C610.2,410.8 611.5,413.5 613.3,415.2 C615.1,416.9 617.3,418.6 620.5,420.0 C623.7,421.4 628.2,422.8 632.5,423.9 C636.8,425.0 644.0,426.2 646.3,426.7" fill="none" stroke="#000" stroke-width="2.05" />
<line x1="380.7" y1="433.4" x2="380.7" y2="429.2" stroke="#111" stroke-width="0.65"/>
<line x1="380.7" y1="256.3" x2="380.7" y2="260.5" stroke="#111" stroke-width="0.65"/>
<line x1="433.8" y1="433.4" x2="433.8" y2="429.2" stroke="#111" stroke-width="0.65"/>
<line x1="433.8" y1="256.3" x2="433.8" y2="260.5" stroke="#111" stroke-width="0.65"/>
<line x1="486.9" y1="433.4" x2="486.9" y2="429.2" stroke="#111" stroke-width="0.65"/>
<line x1="486.9" y1="256.3" x2="486.9" y2="260.5" stroke="#111" stroke-width="0.65"/>
<line x1="540.1" y1="433.4" x2="540.1" y2="429.2" stroke="#111" stroke-width="0.65"/>
<line x1="540.1" y1="256.3" x2="540.1" y2="260.5" stroke="#111" stroke-width="0.65"/>
<line x1="593.2" y1="433.4" x2="593.2" y2="429.2" stroke="#111" stroke-width="0.65"/>
<line x1="593.2" y1="256.3" x2="593.2" y2="260.5" stroke="#111" stroke-width="0.65"/>
<line x1="646.3" y1="433.4" x2="646.3" y2="429.2" stroke="#111" stroke-width="0.65"/>
<line x1="646.3" y1="256.3" x2="646.3" y2="260.5" stroke="#111" stroke-width="0.65"/>
<line x1="380.7" y1="433.4" x2="384.9" y2="433.4" stroke="#111" stroke-width="0.65"/>
<line x1="646.3" y1="433.4" x2="642.1" y2="433.4" stroke="#111" stroke-width="0.65"/>
<line x1="380.7" y1="394.1" x2="384.9" y2="394.1" stroke="#111" stroke-width="0.65"/>
<line x1="646.3" y1="394.1" x2="642.1" y2="394.1" stroke="#111" stroke-width="0.65"/>
<line x1="380.7" y1="354.7" x2="384.9" y2="354.7" stroke="#111" stroke-width="0.65"/>
<line x1="646.3" y1="354.7" x2="642.1" y2="354.7" stroke="#111" stroke-width="0.65"/>
<line x1="380.7" y1="315.4" x2="384.9" y2="315.4" stroke="#111" stroke-width="0.65"/>
<line x1="646.3" y1="315.4" x2="642.1" y2="315.4" stroke="#111" stroke-width="0.65"/>
<line x1="380.7" y1="276.0" x2="384.9" y2="276.0" stroke="#111" stroke-width="0.65"/>
<line x1="646.3" y1="276.0" x2="642.1" y2="276.0" stroke="#111" stroke-width="0.65"/>
<line x1="380.7" y1="413.7" x2="382.9" y2="413.7" stroke="#111" stroke-width="0.65"/>
<line x1="646.3" y1="413.7" x2="644.1" y2="413.7" stroke="#111" stroke-width="0.65"/>
<line x1="380.7" y1="374.4" x2="382.9" y2="374.4" stroke="#111" stroke-width="0.65"/>
<line x1="646.3" y1="374.4" x2="644.1" y2="374.4" stroke="#111" stroke-width="0.65"/>
<line x1="380.7" y1="335.0" x2="382.9" y2="335.0" stroke="#111" stroke-width="0.65"/>
<line x1="646.3" y1="335.0" x2="644.1" y2="335.0" stroke="#111" stroke-width="0.65"/>
<line x1="380.7" y1="295.7" x2="382.9" y2="295.7" stroke="#111" stroke-width="0.65"/>
<line x1="646.3" y1="295.7" x2="644.1" y2="295.7" stroke="#111" stroke-width="0.65"/>
<rect x="380.7" y="256.3" width="265.6" height="177.1" fill="none" stroke="#000" stroke-width="1.1"/>
<circle cx="380.7" cy="418.6" r="2.3" fill="none" stroke="#151515" stroke-width="0.75"/>
<circle cx="396.7" cy="418.6" r="2.3" fill="none" stroke="#151515" stroke-width="0.75"/>
<circle cx="406.2" cy="418.6" r="2.3" fill="none" stroke="#151515" stroke-width="0.75"/>
<circle cx="418.2" cy="418.6" r="2.3" fill="none" stroke="#151515" stroke-width="0.75"/>
<circle cx="425.6" cy="418.6" r="2.3" fill="none" stroke="#151515" stroke-width="0.75"/>
<circle cx="434.0" cy="418.6" r="2.3" fill="none" stroke="#151515" stroke-width="0.75"/>
<circle cx="443.1" cy="418.6" r="2.3" fill="none" stroke="#151515" stroke-width="0.75"/>
<circle cx="449.8" cy="418.6" r="2.3" fill="none" stroke="#151515" stroke-width="0.75"/>
<circle cx="459.3" cy="418.6" r="2.3" fill="none" stroke="#151515" stroke-width="0.75"/>
<circle cx="470.9" cy="418.6" r="2.3" fill="none" stroke="#151515" stroke-width="0.75"/>
<circle cx="478.7" cy="418.6" r="2.3" fill="none" stroke="#151515" stroke-width="0.75"/>
<circle cx="486.7" cy="418.6" r="2.3" fill="none" stroke="#151515" stroke-width="0.75"/>
<circle cx="496.7" cy="418.6" r="2.3" fill="none" stroke="#151515" stroke-width="0.75"/>
<circle cx="502.9" cy="418.9" r="2.3" fill="none" stroke="#151515" stroke-width="0.75"/>
<circle cx="512.0" cy="418.8" r="2.3" fill="none" stroke="#151515" stroke-width="0.75"/>
<circle cx="524.1" cy="418.3" r="2.3" fill="none" stroke="#151515" stroke-width="0.75"/>
<circle cx="531.8" cy="417.6" r="2.3" fill="none" stroke="#151515" stroke-width="0.75"/>
<circle cx="540.2" cy="417.1" r="2.3" fill="none" stroke="#151515" stroke-width="0.75"/>
<circle cx="555.9" cy="415.9" r="2.3" fill="none" stroke="#151515" stroke-width="0.75"/>
<circle cx="565.1" cy="415.2" r="2.3" fill="none" stroke="#151515" stroke-width="0.75"/>
<circle cx="577.1" cy="414.2" r="2.3" fill="none" stroke="#151515" stroke-width="0.75"/>
<circle cx="584.8" cy="413.0" r="2.3" fill="none" stroke="#151515" stroke-width="0.75"/>
<circle cx="593.5" cy="411.8" r="2.3" fill="none" stroke="#151515" stroke-width="0.75"/>
<circle cx="618.6" cy="418.3" r="2.3" fill="none" stroke="#151515" stroke-width="0.75"/>
<circle cx="630.1" cy="423.9" r="2.3" fill="none" stroke="#151515" stroke-width="0.75"/>
<circle cx="637.8" cy="424.8" r="2.3" fill="none" stroke="#151515" stroke-width="0.75"/>
<circle cx="646.3" cy="426.7" r="2.3" fill="none" stroke="#151515" stroke-width="0.75"/>
<g transform="translate(370.08,449.40) scale(1.0700,1)">
<text x="0" y="0"><tspan font-size="12" x="0.00" dy="-0.00">10</tspan><tspan font-size="8.4" x="12.30" dy="-4.40">-4</tspan></text>
</g>
<g transform="translate(423.20,449.40) scale(1.0700,1)">
<text x="0" y="0"><tspan font-size="12" x="0.00" dy="-0.00">10</tspan><tspan font-size="8.4" x="12.30" dy="-4.40">-3</tspan></text>
</g>
<g transform="translate(476.32,449.40) scale(1.0700,1)">
<text x="0" y="0"><tspan font-size="12" x="0.00" dy="-0.00">10</tspan><tspan font-size="8.4" x="12.30" dy="-4.40">-2</tspan></text>
</g>
<g transform="translate(529.44,449.40) scale(1.0700,1)">
<text x="0" y="0"><tspan font-size="12" x="0.00" dy="-0.00">10</tspan><tspan font-size="8.4" x="12.30" dy="-4.40">-1</tspan></text>
</g>
<g transform="translate(584.63,449.40) scale(1.0000,1)">
<text x="0" y="0"><tspan font-size="12" x="0.00" dy="-0.00">10</tspan><tspan font-size="8.4" x="12.30" dy="-4.40">0</tspan></text>
</g>
<g transform="translate(637.75,449.40) scale(1.0000,1)">
<text x="0" y="0"><tspan font-size="12" x="0.00" dy="-0.00">10</tspan><tspan font-size="8.4" x="12.30" dy="-4.40">1</tspan></text>
</g>
<g transform="translate(367.40,437.30) scale(1.0000,1)">
<text x="0" y="0"><tspan font-size="12" x="0.00" dy="-0.00">0</tspan></text>
</g>
<g transform="translate(367.40,397.96) scale(1.0000,1)">
<text x="0" y="0"><tspan font-size="12" x="0.00" dy="-0.00">2</tspan></text>
</g>
<g transform="translate(367.40,358.62) scale(1.0000,1)">
<text x="0" y="0"><tspan font-size="12" x="0.00" dy="-0.00">4</tspan></text>
</g>
<g transform="translate(367.40,319.28) scale(1.0000,1)">
<text x="0" y="0"><tspan font-size="12" x="0.00" dy="-0.00">6</tspan></text>
</g>
<g transform="translate(367.40,279.94) scale(1.0000,1)">
<text x="0" y="0"><tspan font-size="12" x="0.00" dy="-0.00">8</tspan></text>
</g>
<g transform="translate(508.70,467.20) scale(1.0000,1)">
<text x="0" y="0"><tspan font-size="13.3" font-style="italic" x="0.00" dy="-0.00">D</tspan></text>
</g>
<g transform="translate(615.20,288.90) scale(1.0971,1)">
<text x="0" y="0" stroke="#111" stroke-width="0.45"><tspan font-size="17.5" x="0.00" dy="-0.00">d</tspan></text>
</g>
</svg>
</body></html>
